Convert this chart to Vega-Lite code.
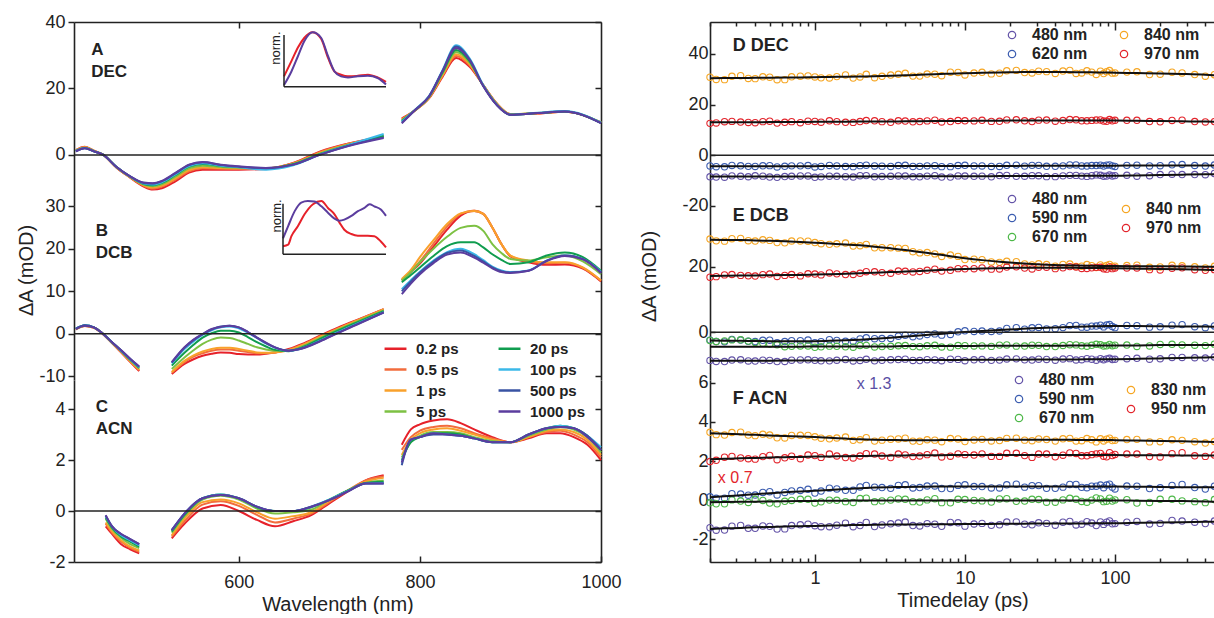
{
"$schema":"https://vega.github.io/schema/vega-lite/v6.json",
"padding":{"left":16,"top":13,"right":0,"bottom":0},
"autosize":{"type":"pad"},
"bounds":"flush",
"align":"each",
"columns":2,
"spacing":{"row":0,"column":109},
"config":{"view":{"stroke":null},"font":"Liberation Sans",
"axis":{"grid":false,"domainColor":"#222","domainWidth":1.6,"tickColor":"#222","tickWidth":1.5,"labelFont":"Liberation Sans","labelFontSize":18,"labelColor":"#222","titleFont":"Liberation Sans","titleFontSize":20,"titleFontWeight":"normal","titleColor":"#222","labelFlush":false,"labelOverlap":false},
"legend":{"labelFont":"Liberation Sans","labelFontWeight":"bold","labelColor":"#222","padding":0}},
"resolve":{"scale":{"x":"independent","y":"independent","color":"independent","stroke":"independent"},"legend":{"color":"independent","stroke":"independent"},"axis":{"x":"independent","y":"independent"}},
"datasets":{
"A":[
{"s":0.2,"w":420,"v":1.5},{"s":0.2,"w":430,"v":2.5},{"s":0.2,"w":440,"v":1.3},{"s":0.2,"w":450,"v":0.1},{"s":0.2,"w":465,"v":-3.8},{"s":0.2,"w":480,"v":-6.8},{"s":0.2,"w":495,"v":-9.5},{"s":0.2,"w":505,"v":-10.4},{"s":0.2,"w":515,"v":-10},{"s":0.2,"w":530,"v":-7.9},{"s":0.2,"w":545,"v":-5.3},{"s":0.2,"w":560,"v":-4.4},{"s":0.2,"w":580,"v":-4.4},{"s":0.2,"w":600,"v":-4.4},{"s":0.2,"w":630,"v":-4.2},{"s":0.2,"w":660,"v":-2.4},{"s":0.2,"w":690,"v":1.1},{"s":0.2,"w":720,"v":3.4},{"s":0.2,"w":760,"v":5.6},{"s":0.2,"w":770,"v":null},{"s":0.2,"w":780,"v":11},{"s":0.2,"w":795,"v":13.5},{"s":0.2,"w":810,"v":17},{"s":0.2,"w":825,"v":23.5},{"s":0.2,"w":840,"v":29.2},{"s":0.2,"w":855,"v":26.5},{"s":0.2,"w":870,"v":21},{"s":0.2,"w":885,"v":15.5},{"s":0.2,"w":900,"v":12.3},{"s":0.2,"w":930,"v":12.5},{"s":0.2,"w":960,"v":13},{"s":0.2,"w":1000,"v":9.8},
{"s":0.5,"w":420,"v":1.4},{"s":0.5,"w":430,"v":2.4},{"s":0.5,"w":440,"v":1.3},{"s":0.5,"w":450,"v":0.1},{"s":0.5,"w":465,"v":-3.8},{"s":0.5,"w":480,"v":-6.7},{"s":0.5,"w":495,"v":-9.3},{"s":0.5,"w":505,"v":-10.1},{"s":0.5,"w":515,"v":-9.5},{"s":0.5,"w":530,"v":-7.4},{"s":0.5,"w":545,"v":-4.9},{"s":0.5,"w":560,"v":-4},{"s":0.5,"w":580,"v":-4.1},{"s":0.5,"w":600,"v":-4.2},{"s":0.5,"w":630,"v":-4.1},{"s":0.5,"w":660,"v":-2.5},{"s":0.5,"w":690,"v":0.9},{"s":0.5,"w":720,"v":3.3},{"s":0.5,"w":760,"v":5.5},{"s":0.5,"w":770,"v":null},{"s":0.5,"w":780,"v":10.8},{"s":0.5,"w":795,"v":13.5},{"s":0.5,"w":810,"v":17.1},{"s":0.5,"w":825,"v":23.8},{"s":0.5,"w":840,"v":29.8},{"s":0.5,"w":855,"v":27},{"s":0.5,"w":870,"v":21},{"s":0.5,"w":885,"v":15.4},{"s":0.5,"w":900,"v":12.3},{"s":0.5,"w":930,"v":12.5},{"s":0.5,"w":960,"v":13},{"s":0.5,"w":1000,"v":9.8},
{"s":1,"w":420,"v":1.4},{"s":1,"w":430,"v":2.3},{"s":1,"w":440,"v":1.2},{"s":1,"w":450,"v":0.1},{"s":1,"w":465,"v":-3.7},{"s":1,"w":480,"v":-6.7},{"s":1,"w":495,"v":-9.1},{"s":1,"w":505,"v":-9.8},{"s":1,"w":515,"v":-9.2},{"s":1,"w":530,"v":-7},{"s":1,"w":545,"v":-4.5},{"s":1,"w":560,"v":-3.7},{"s":1,"w":580,"v":-3.9},{"s":1,"w":600,"v":-4},{"s":1,"w":630,"v":-4},{"s":1,"w":660,"v":-2.6},{"s":1,"w":690,"v":0.7},{"s":1,"w":720,"v":3.2},{"s":1,"w":760,"v":5.5},{"s":1,"w":770,"v":null},{"s":1,"w":780,"v":10.6},{"s":1,"w":795,"v":13.5},{"s":1,"w":810,"v":17.2},{"s":1,"w":825,"v":24},{"s":1,"w":840,"v":30.3},{"s":1,"w":855,"v":27.3},{"s":1,"w":870,"v":21},{"s":1,"w":885,"v":15.4},{"s":1,"w":900,"v":12.3},{"s":1,"w":930,"v":12.6},{"s":1,"w":960,"v":13},{"s":1,"w":1000,"v":9.8},
{"s":5,"w":420,"v":1.3},{"s":5,"w":430,"v":2.2},{"s":5,"w":440,"v":1.2},{"s":5,"w":450,"v":0.1},{"s":5,"w":465,"v":-3.7},{"s":5,"w":480,"v":-6.6},{"s":5,"w":495,"v":-8.9},{"s":5,"w":505,"v":-9.4},{"s":5,"w":515,"v":-8.8},{"s":5,"w":530,"v":-6.5},{"s":5,"w":545,"v":-4},{"s":5,"w":560,"v":-3.2},{"s":5,"w":580,"v":-3.6},{"s":5,"w":600,"v":-3.8},{"s":5,"w":630,"v":-4},{"s":5,"w":660,"v":-2.7},{"s":5,"w":690,"v":0.5},{"s":5,"w":720,"v":3},{"s":5,"w":760,"v":5.6},{"s":5,"w":770,"v":null},{"s":5,"w":780,"v":10.4},{"s":5,"w":795,"v":13.6},{"s":5,"w":810,"v":17.4},{"s":5,"w":825,"v":24.5},{"s":5,"w":840,"v":31},{"s":5,"w":855,"v":27.8},{"s":5,"w":870,"v":20.9},{"s":5,"w":885,"v":15.2},{"s":5,"w":900,"v":12.2},{"s":5,"w":930,"v":12.6},{"s":5,"w":960,"v":13.1},{"s":5,"w":1000,"v":9.7},
{"s":20,"w":420,"v":1.2},{"s":20,"w":430,"v":2.1},{"s":20,"w":440,"v":1.1},{"s":20,"w":450,"v":0.1},{"s":20,"w":465,"v":-3.6},{"s":20,"w":480,"v":-6.5},{"s":20,"w":495,"v":-8.7},{"s":20,"w":505,"v":-9.1},{"s":20,"w":515,"v":-8.4},{"s":20,"w":530,"v":-6},{"s":20,"w":545,"v":-3.5},{"s":20,"w":560,"v":-2.7},{"s":20,"w":580,"v":-3.3},{"s":20,"w":600,"v":-3.6},{"s":20,"w":630,"v":-4.1},{"s":20,"w":660,"v":-2.8},{"s":20,"w":690,"v":0.3},{"s":20,"w":720,"v":2.9},{"s":20,"w":760,"v":5.8},{"s":20,"w":770,"v":null},{"s":20,"w":780,"v":10.2},{"s":20,"w":795,"v":13.6},{"s":20,"w":810,"v":17.5},{"s":20,"w":825,"v":24.9},{"s":20,"w":840,"v":31.6},{"s":20,"w":855,"v":28.2},{"s":20,"w":870,"v":20.8},{"s":20,"w":885,"v":15.1},{"s":20,"w":900,"v":12.1},{"s":20,"w":930,"v":12.6},{"s":20,"w":960,"v":13.1},{"s":20,"w":1000,"v":9.7},
{"s":100,"w":420,"v":1.2},{"s":100,"w":430,"v":2.1},{"s":100,"w":440,"v":1.1},{"s":100,"w":450,"v":0.1},{"s":100,"w":465,"v":-3.6},{"s":100,"w":480,"v":-6.5},{"s":100,"w":495,"v":-8.6},{"s":100,"w":505,"v":-8.9},{"s":100,"w":515,"v":-8.2},{"s":100,"w":530,"v":-5.8},{"s":100,"w":545,"v":-3.3},{"s":100,"w":560,"v":-2.5},{"s":100,"w":580,"v":-3.2},{"s":100,"w":600,"v":-3.7},{"s":100,"w":630,"v":-4.4},{"s":100,"w":660,"v":-3.1},{"s":100,"w":690,"v":0.2},{"s":100,"w":720,"v":2.9},{"s":100,"w":760,"v":6.3},{"s":100,"w":770,"v":null},{"s":100,"w":780,"v":10},{"s":100,"w":795,"v":13.7},{"s":100,"w":810,"v":17.7},{"s":100,"w":825,"v":25.5},{"s":100,"w":840,"v":33},{"s":100,"w":855,"v":29},{"s":100,"w":870,"v":21},{"s":100,"w":885,"v":15.1},{"s":100,"w":900,"v":12.1},{"s":100,"w":930,"v":12.7},{"s":100,"w":960,"v":13.2},{"s":100,"w":1000,"v":9.7},
{"s":500,"w":420,"v":1.1},{"s":500,"w":430,"v":2},{"s":500,"w":440,"v":1.1},{"s":500,"w":450,"v":0.1},{"s":500,"w":465,"v":-3.6},{"s":500,"w":480,"v":-6.4},{"s":500,"w":495,"v":-8.4},{"s":500,"w":505,"v":-8.6},{"s":500,"w":515,"v":-7.9},{"s":500,"w":530,"v":-5.5},{"s":500,"w":545,"v":-3},{"s":500,"w":560,"v":-2.2},{"s":500,"w":580,"v":-3},{"s":500,"w":600,"v":-3.5},{"s":500,"w":630,"v":-4},{"s":500,"w":660,"v":-2.9},{"s":500,"w":690,"v":0.1},{"s":500,"w":720,"v":2.7},{"s":500,"w":760,"v":5.3},{"s":500,"w":770,"v":null},{"s":500,"w":780,"v":9.7},{"s":500,"w":795,"v":13.6},{"s":500,"w":810,"v":17.6},{"s":500,"w":825,"v":25.3},{"s":500,"w":840,"v":32.6},{"s":500,"w":855,"v":28.7},{"s":500,"w":870,"v":20.8},{"s":500,"w":885,"v":15},{"s":500,"w":900,"v":12.1},{"s":500,"w":930,"v":12.6},{"s":500,"w":960,"v":13.1},{"s":500,"w":1000,"v":9.6},
{"s":1000,"w":420,"v":1.1},{"s":1000,"w":430,"v":2},{"s":1000,"w":440,"v":1.1},{"s":1000,"w":450,"v":0.1},{"s":1000,"w":465,"v":-3.6},{"s":1000,"w":480,"v":-6.4},{"s":1000,"w":495,"v":-8.3},{"s":1000,"w":505,"v":-8.5},{"s":1000,"w":515,"v":-7.8},{"s":1000,"w":530,"v":-5.4},{"s":1000,"w":545,"v":-2.9},{"s":1000,"w":560,"v":-2.1},{"s":1000,"w":580,"v":-2.9},{"s":1000,"w":600,"v":-3.4},{"s":1000,"w":630,"v":-3.9},{"s":1000,"w":660,"v":-2.9},{"s":1000,"w":690,"v":0.1},{"s":1000,"w":720,"v":2.6},{"s":1000,"w":760,"v":5.1},{"s":1000,"w":770,"v":null},{"s":1000,"w":780,"v":9.5},{"s":1000,"w":795,"v":13.6},{"s":1000,"w":810,"v":17.6},{"s":1000,"w":825,"v":25.2},{"s":1000,"w":840,"v":32.2},{"s":1000,"w":855,"v":28.5},{"s":1000,"w":870,"v":20.7},{"s":1000,"w":885,"v":15},{"s":1000,"w":900,"v":12.1},{"s":1000,"w":930,"v":12.6},{"s":1000,"w":960,"v":13.1},{"s":1000,"w":1000,"v":9.6}
],
"B":[
{"s":0.2,"w":420,"v":1},{"s":0.2,"w":430,"v":1.8},{"s":0.2,"w":440,"v":1.4},{"s":0.2,"w":450,"v":-0.1},{"s":0.2,"w":460,"v":-2.2},{"s":0.2,"w":470,"v":-4.4},{"s":0.2,"w":480,"v":-6.6},{"s":0.2,"w":490,"v":-8.8},{"s":0.2,"w":505,"v":null},{"s":0.2,"w":526,"v":-9.5},{"s":0.2,"w":540,"v":-7.1},{"s":0.2,"w":550,"v":-6},{"s":0.2,"w":560,"v":-5.2},{"s":0.2,"w":570,"v":-4.7},{"s":0.2,"w":580,"v":-4.4},{"s":0.2,"w":590,"v":-4.5},{"s":0.2,"w":600,"v":-4.8},{"s":0.2,"w":610,"v":-4.9},{"s":0.2,"w":620,"v":-4.9},{"s":0.2,"w":630,"v":-4.7},{"s":0.2,"w":640,"v":-4.4},{"s":0.2,"w":655,"v":-3.6},{"s":0.2,"w":670,"v":-2.4},{"s":0.2,"w":690,"v":-0.4},{"s":0.2,"w":710,"v":1.5},{"s":0.2,"w":730,"v":3.2},{"s":0.2,"w":760,"v":5.8},{"s":0.2,"w":770,"v":null},{"s":0.2,"w":780,"v":12.5},{"s":0.2,"w":790,"v":14.5},{"s":0.2,"w":800,"v":16.5},{"s":0.2,"w":815,"v":20.5},{"s":0.2,"w":830,"v":24.5},{"s":0.2,"w":845,"v":27.8},{"s":0.2,"w":860,"v":28.9},{"s":0.2,"w":870,"v":28.2},{"s":0.2,"w":880,"v":25},{"s":0.2,"w":890,"v":21.1},{"s":0.2,"w":900,"v":18.2},{"s":0.2,"w":920,"v":16.8},{"s":0.2,"w":940,"v":16.2},{"s":0.2,"w":960,"v":16.3},{"s":0.2,"w":980,"v":15.3},{"s":0.2,"w":1000,"v":12.3},
{"s":0.5,"w":420,"v":1},{"s":0.5,"w":430,"v":1.8},{"s":0.5,"w":440,"v":1.4},{"s":0.5,"w":450,"v":-0.1},{"s":0.5,"w":460,"v":-2.2},{"s":0.5,"w":470,"v":-4.3},{"s":0.5,"w":480,"v":-6.5},{"s":0.5,"w":490,"v":-8.6},{"s":0.5,"w":505,"v":null},{"s":0.5,"w":526,"v":-9.2},{"s":0.5,"w":540,"v":-6.7},{"s":0.5,"w":550,"v":-5.4},{"s":0.5,"w":560,"v":-4.6},{"s":0.5,"w":570,"v":-4},{"s":0.5,"w":580,"v":-3.7},{"s":0.5,"w":590,"v":-3.7},{"s":0.5,"w":600,"v":-4},{"s":0.5,"w":610,"v":-4.3},{"s":0.5,"w":620,"v":-4.6},{"s":0.5,"w":630,"v":-4.6},{"s":0.5,"w":640,"v":-4.4},{"s":0.5,"w":655,"v":-3.8},{"s":0.5,"w":670,"v":-2.6},{"s":0.5,"w":690,"v":-0.6},{"s":0.5,"w":710,"v":1.3},{"s":0.5,"w":730,"v":3.1},{"s":0.5,"w":760,"v":5.8},{"s":0.5,"w":770,"v":null},{"s":0.5,"w":780,"v":12.7},{"s":0.5,"w":790,"v":14.7},{"s":0.5,"w":800,"v":17},{"s":0.5,"w":815,"v":21.2},{"s":0.5,"w":830,"v":25.2},{"s":0.5,"w":845,"v":28.2},{"s":0.5,"w":860,"v":29},{"s":0.5,"w":870,"v":28.2},{"s":0.5,"w":880,"v":25},{"s":0.5,"w":890,"v":21.1},{"s":0.5,"w":900,"v":18.3},{"s":0.5,"w":920,"v":17},{"s":0.5,"w":940,"v":16.6},{"s":0.5,"w":960,"v":16.7},{"s":0.5,"w":980,"v":15.5},{"s":0.5,"w":1000,"v":12.5},
{"s":1,"w":420,"v":1.1},{"s":1,"w":430,"v":1.9},{"s":1,"w":440,"v":1.5},{"s":1,"w":450,"v":0},{"s":1,"w":460,"v":-2.1},{"s":1,"w":470,"v":-4.2},{"s":1,"w":480,"v":-6.4},{"s":1,"w":490,"v":-8.4},{"s":1,"w":505,"v":null},{"s":1,"w":526,"v":-9},{"s":1,"w":540,"v":-6.4},{"s":1,"w":550,"v":-5.1},{"s":1,"w":560,"v":-4.2},{"s":1,"w":570,"v":-3.6},{"s":1,"w":580,"v":-3.3},{"s":1,"w":590,"v":-3.3},{"s":1,"w":600,"v":-3.6},{"s":1,"w":610,"v":-4},{"s":1,"w":620,"v":-4.4},{"s":1,"w":630,"v":-4.5},{"s":1,"w":640,"v":-4.4},{"s":1,"w":655,"v":-3.9},{"s":1,"w":670,"v":-2.7},{"s":1,"w":690,"v":-0.7},{"s":1,"w":710,"v":1.2},{"s":1,"w":730,"v":3},{"s":1,"w":760,"v":5.7},{"s":1,"w":770,"v":null},{"s":1,"w":780,"v":12.9},{"s":1,"w":790,"v":15},{"s":1,"w":800,"v":18},{"s":1,"w":815,"v":22},{"s":1,"w":830,"v":25.8},{"s":1,"w":845,"v":28.3},{"s":1,"w":860,"v":28.9},{"s":1,"w":870,"v":28.2},{"s":1,"w":880,"v":25},{"s":1,"w":890,"v":21.1},{"s":1,"w":900,"v":18.4},{"s":1,"w":920,"v":17.2},{"s":1,"w":940,"v":16.8},{"s":1,"w":960,"v":16.8},{"s":1,"w":980,"v":15.6},{"s":1,"w":1000,"v":12.5},
{"s":5,"w":420,"v":1.1},{"s":5,"w":430,"v":1.9},{"s":5,"w":440,"v":1.5},{"s":5,"w":450,"v":0},{"s":5,"w":460,"v":-2.1},{"s":5,"w":470,"v":-4.1},{"s":5,"w":480,"v":-6.2},{"s":5,"w":490,"v":-8.2},{"s":5,"w":505,"v":null},{"s":5,"w":526,"v":-8.3},{"s":5,"w":540,"v":-5.6},{"s":5,"w":550,"v":-3.9},{"s":5,"w":560,"v":-2.4},{"s":5,"w":570,"v":-1.4},{"s":5,"w":580,"v":-0.9},{"s":5,"w":590,"v":-1},{"s":5,"w":600,"v":-1.6},{"s":5,"w":610,"v":-2.4},{"s":5,"w":620,"v":-3.2},{"s":5,"w":630,"v":-3.7},{"s":5,"w":640,"v":-4},{"s":5,"w":655,"v":-4},{"s":5,"w":670,"v":-3},{"s":5,"w":690,"v":-1},{"s":5,"w":710,"v":1},{"s":5,"w":730,"v":2.8},{"s":5,"w":760,"v":5.5},{"s":5,"w":770,"v":null},{"s":5,"w":780,"v":12.5},{"s":5,"w":790,"v":14.5},{"s":5,"w":800,"v":16.8},{"s":5,"w":815,"v":20},{"s":5,"w":830,"v":22.8},{"s":5,"w":845,"v":24.9},{"s":5,"w":860,"v":25.4},{"s":5,"w":870,"v":24.2},{"s":5,"w":880,"v":21.1},{"s":5,"w":890,"v":19},{"s":5,"w":900,"v":17.6},{"s":5,"w":920,"v":17.2},{"s":5,"w":940,"v":18},{"s":5,"w":960,"v":18.4},{"s":5,"w":980,"v":17},{"s":5,"w":1000,"v":14},
{"s":20,"w":420,"v":1.2},{"s":20,"w":430,"v":2},{"s":20,"w":440,"v":1.5},{"s":20,"w":450,"v":0},{"s":20,"w":460,"v":-2},{"s":20,"w":470,"v":-4},{"s":20,"w":480,"v":-6.1},{"s":20,"w":490,"v":-8},{"s":20,"w":505,"v":null},{"s":20,"w":526,"v":-7.5},{"s":20,"w":540,"v":-4.5},{"s":20,"w":550,"v":-2.6},{"s":20,"w":560,"v":-0.9},{"s":20,"w":570,"v":0.1},{"s":20,"w":580,"v":0.7},{"s":20,"w":590,"v":0.7},{"s":20,"w":600,"v":0.3},{"s":20,"w":610,"v":-0.8},{"s":20,"w":620,"v":-2},{"s":20,"w":630,"v":-3},{"s":20,"w":640,"v":-3.8},{"s":20,"w":655,"v":-4.1},{"s":20,"w":670,"v":-3.2},{"s":20,"w":690,"v":-1.2},{"s":20,"w":710,"v":0.8},{"s":20,"w":730,"v":2.6},{"s":20,"w":760,"v":5.3},{"s":20,"w":770,"v":null},{"s":20,"w":780,"v":12.1},{"s":20,"w":790,"v":13.8},{"s":20,"w":800,"v":15.6},{"s":20,"w":815,"v":18.3},{"s":20,"w":830,"v":20.6},{"s":20,"w":845,"v":21.5},{"s":20,"w":860,"v":21.5},{"s":20,"w":870,"v":20.3},{"s":20,"w":880,"v":18.7},{"s":20,"w":890,"v":17.4},{"s":20,"w":900,"v":16.4},{"s":20,"w":920,"v":16.8},{"s":20,"w":940,"v":18.4},{"s":20,"w":960,"v":19.1},{"s":20,"w":980,"v":18},{"s":20,"w":1000,"v":14.8},
{"s":100,"w":420,"v":1.2},{"s":100,"w":430,"v":2},{"s":100,"w":440,"v":1.5},{"s":100,"w":450,"v":0},{"s":100,"w":460,"v":-2},{"s":100,"w":470,"v":-4},{"s":100,"w":480,"v":-6},{"s":100,"w":490,"v":-7.9},{"s":100,"w":505,"v":null},{"s":100,"w":526,"v":-7},{"s":100,"w":540,"v":-3.6},{"s":100,"w":550,"v":-1.8},{"s":100,"w":560,"v":-0.3},{"s":100,"w":570,"v":0.8},{"s":100,"w":580,"v":1.5},{"s":100,"w":590,"v":1.7},{"s":100,"w":600,"v":1.3},{"s":100,"w":610,"v":0.2},{"s":100,"w":620,"v":-1},{"s":100,"w":630,"v":-2.3},{"s":100,"w":640,"v":-3.3},{"s":100,"w":655,"v":-4},{"s":100,"w":670,"v":-3.4},{"s":100,"w":690,"v":-1.6},{"s":100,"w":710,"v":0.4},{"s":100,"w":730,"v":2.3},{"s":100,"w":760,"v":5.1},{"s":100,"w":770,"v":null},{"s":100,"w":780,"v":10.5},{"s":100,"w":790,"v":12.6},{"s":100,"w":800,"v":14.6},{"s":100,"w":815,"v":17.2},{"s":100,"w":830,"v":19.2},{"s":100,"w":845,"v":20},{"s":100,"w":860,"v":18.7},{"s":100,"w":870,"v":17.3},{"s":100,"w":880,"v":15.8},{"s":100,"w":890,"v":14.9},{"s":100,"w":900,"v":14.5},{"s":100,"w":920,"v":14.9},{"s":100,"w":940,"v":17.2},{"s":100,"w":960,"v":18.4},{"s":100,"w":980,"v":17.6},{"s":100,"w":1000,"v":14.6},
{"s":500,"w":420,"v":1.2},{"s":500,"w":430,"v":2},{"s":500,"w":440,"v":1.5},{"s":500,"w":450,"v":0},{"s":500,"w":460,"v":-2},{"s":500,"w":470,"v":-3.9},{"s":500,"w":480,"v":-5.9},{"s":500,"w":490,"v":-7.8},{"s":500,"w":505,"v":null},{"s":500,"w":526,"v":-6.8},{"s":500,"w":540,"v":-3.3},{"s":500,"w":550,"v":-1.5},{"s":500,"w":560,"v":-0.1},{"s":500,"w":570,"v":1},{"s":500,"w":580,"v":1.7},{"s":500,"w":590,"v":1.9},{"s":500,"w":600,"v":1.5},{"s":500,"w":610,"v":0.4},{"s":500,"w":620,"v":-0.9},{"s":500,"w":630,"v":-2.2},{"s":500,"w":640,"v":-3.2},{"s":500,"w":655,"v":-4},{"s":500,"w":670,"v":-3.4},{"s":500,"w":690,"v":-1.7},{"s":500,"w":710,"v":0.3},{"s":500,"w":730,"v":2.2},{"s":500,"w":760,"v":5},{"s":500,"w":770,"v":null},{"s":500,"w":780,"v":10},{"s":500,"w":790,"v":12.3},{"s":500,"w":800,"v":14.4},{"s":500,"w":815,"v":17},{"s":500,"w":830,"v":19},{"s":500,"w":845,"v":19.6},{"s":500,"w":860,"v":18.3},{"s":500,"w":870,"v":17},{"s":500,"w":880,"v":15.6},{"s":500,"w":890,"v":14.7},{"s":500,"w":900,"v":14.4},{"s":500,"w":920,"v":14.8},{"s":500,"w":940,"v":17.2},{"s":500,"w":960,"v":18.4},{"s":500,"w":980,"v":17.6},{"s":500,"w":1000,"v":14.4},
{"s":1000,"w":420,"v":1.1},{"s":1000,"w":430,"v":1.9},{"s":1000,"w":440,"v":1.5},{"s":1000,"w":450,"v":0},{"s":1000,"w":460,"v":-2},{"s":1000,"w":470,"v":-3.9},{"s":1000,"w":480,"v":-5.9},{"s":1000,"w":490,"v":-7.7},{"s":1000,"w":505,"v":null},{"s":1000,"w":526,"v":-6.7},{"s":1000,"w":540,"v":-3.2},{"s":1000,"w":550,"v":-1.4},{"s":1000,"w":560,"v":-0.1},{"s":1000,"w":570,"v":1.1},{"s":1000,"w":580,"v":1.6},{"s":1000,"w":590,"v":1.9},{"s":1000,"w":600,"v":1.5},{"s":1000,"w":610,"v":0.4},{"s":1000,"w":620,"v":-0.9},{"s":1000,"w":630,"v":-2.1},{"s":1000,"w":640,"v":-3.2},{"s":1000,"w":655,"v":-4},{"s":1000,"w":670,"v":-3.5},{"s":1000,"w":690,"v":-1.8},{"s":1000,"w":710,"v":0.2},{"s":1000,"w":730,"v":2.1},{"s":1000,"w":760,"v":5},{"s":1000,"w":770,"v":null},{"s":1000,"w":780,"v":9.3},{"s":1000,"w":790,"v":11.8},{"s":1000,"w":800,"v":14},{"s":1000,"w":815,"v":16.6},{"s":1000,"w":830,"v":18.6},{"s":1000,"w":845,"v":19.1},{"s":1000,"w":860,"v":17.9},{"s":1000,"w":870,"v":16.7},{"s":1000,"w":880,"v":15.4},{"s":1000,"w":890,"v":14.5},{"s":1000,"w":900,"v":14.3},{"s":1000,"w":920,"v":14.8},{"s":1000,"w":940,"v":17.1},{"s":1000,"w":960,"v":18.3},{"s":1000,"w":980,"v":17.5},{"s":1000,"w":1000,"v":14.3}
],
"C":[
{"s":0.2,"w":453,"v":-0.6},{"s":0.2,"w":460,"v":-0.9},{"s":0.2,"w":470,"v":-1.3},{"s":0.2,"w":480,"v":-1.5},{"s":0.2,"w":490,"v":-1.66},{"s":0.2,"w":505,"v":null},{"s":0.2,"w":526,"v":-1.07},{"s":0.2,"w":540,"v":-0.5},{"s":0.2,"w":560,"v":0.1},{"s":0.2,"w":580,"v":0.24},{"s":0.2,"w":600,"v":0},{"s":0.2,"w":620,"v":-0.35},{"s":0.2,"w":640,"v":-0.6},{"s":0.2,"w":660,"v":-0.4},{"s":0.2,"w":680,"v":-0.16},{"s":0.2,"w":700,"v":0.3},{"s":0.2,"w":720,"v":0.76},{"s":0.2,"w":740,"v":1.2},{"s":0.2,"w":760,"v":1.4},{"s":0.2,"w":770,"v":null},{"s":0.2,"w":780,"v":2.6},{"s":0.2,"w":790,"v":3.2},{"s":0.2,"w":800,"v":3.4},{"s":0.2,"w":815,"v":3.55},{"s":0.2,"w":830,"v":3.6},{"s":0.2,"w":845,"v":3.45},{"s":0.2,"w":860,"v":3.2},{"s":0.2,"w":880,"v":2.9},{"s":0.2,"w":900,"v":2.7},{"s":0.2,"w":920,"v":2.85},{"s":0.2,"w":940,"v":3.05},{"s":0.2,"w":955,"v":3.05},{"s":0.2,"w":970,"v":2.9},{"s":0.2,"w":985,"v":2.6},{"s":0.2,"w":1000,"v":2},
{"s":0.5,"w":453,"v":-0.5},{"s":0.5,"w":460,"v":-0.85},{"s":0.5,"w":470,"v":-1.2},{"s":0.5,"w":480,"v":-1.45},{"s":0.5,"w":490,"v":-1.6},{"s":0.5,"w":505,"v":null},{"s":0.5,"w":526,"v":-1},{"s":0.5,"w":540,"v":-0.4},{"s":0.5,"w":560,"v":0.25},{"s":0.5,"w":580,"v":0.38},{"s":0.5,"w":600,"v":0.2},{"s":0.5,"w":620,"v":-0.15},{"s":0.5,"w":640,"v":-0.45},{"s":0.5,"w":660,"v":-0.3},{"s":0.5,"w":680,"v":-0.1},{"s":0.5,"w":700,"v":0.35},{"s":0.5,"w":720,"v":0.8},{"s":0.5,"w":740,"v":1.2},{"s":0.5,"w":760,"v":1.35},{"s":0.5,"w":770,"v":null},{"s":0.5,"w":780,"v":2.4},{"s":0.5,"w":790,"v":2.9},{"s":0.5,"w":800,"v":3.15},{"s":0.5,"w":815,"v":3.3},{"s":0.5,"w":830,"v":3.35},{"s":0.5,"w":845,"v":3.25},{"s":0.5,"w":860,"v":3.05},{"s":0.5,"w":880,"v":2.85},{"s":0.5,"w":900,"v":2.7},{"s":0.5,"w":920,"v":2.9},{"s":0.5,"w":940,"v":3.1},{"s":0.5,"w":955,"v":3.15},{"s":0.5,"w":970,"v":3},{"s":0.5,"w":985,"v":2.7},{"s":0.5,"w":1000,"v":2.1},
{"s":1,"w":453,"v":-0.45},{"s":1,"w":460,"v":-0.8},{"s":1,"w":470,"v":-1.15},{"s":1,"w":480,"v":-1.4},{"s":1,"w":490,"v":-1.55},{"s":1,"w":505,"v":null},{"s":1,"w":526,"v":-0.95},{"s":1,"w":540,"v":-0.3},{"s":1,"w":560,"v":0.35},{"s":1,"w":580,"v":0.45},{"s":1,"w":600,"v":0.3},{"s":1,"w":620,"v":-0.05},{"s":1,"w":640,"v":-0.3},{"s":1,"w":660,"v":-0.2},{"s":1,"w":680,"v":-0.05},{"s":1,"w":700,"v":0.4},{"s":1,"w":720,"v":0.8},{"s":1,"w":740,"v":1.15},{"s":1,"w":760,"v":1.3},{"s":1,"w":770,"v":null},{"s":1,"w":780,"v":2.2},{"s":1,"w":790,"v":2.8},{"s":1,"w":800,"v":3.05},{"s":1,"w":815,"v":3.2},{"s":1,"w":830,"v":3.25},{"s":1,"w":845,"v":3.15},{"s":1,"w":860,"v":3},{"s":1,"w":880,"v":2.8},{"s":1,"w":900,"v":2.7},{"s":1,"w":920,"v":2.9},{"s":1,"w":940,"v":3.15},{"s":1,"w":955,"v":3.2},{"s":1,"w":970,"v":3.1},{"s":1,"w":985,"v":2.8},{"s":1,"w":1000,"v":2.2},
{"s":5,"w":453,"v":-0.3},{"s":5,"w":460,"v":-0.7},{"s":5,"w":470,"v":-1.05},{"s":5,"w":480,"v":-1.3},{"s":5,"w":490,"v":-1.45},{"s":5,"w":505,"v":null},{"s":5,"w":526,"v":-0.85},{"s":5,"w":540,"v":-0.2},{"s":5,"w":560,"v":0.45},{"s":5,"w":580,"v":0.6},{"s":5,"w":600,"v":0.45},{"s":5,"w":620,"v":0.1},{"s":5,"w":640,"v":-0.1},{"s":5,"w":660,"v":-0.05},{"s":5,"w":680,"v":0.05},{"s":5,"w":700,"v":0.45},{"s":5,"w":720,"v":0.8},{"s":5,"w":740,"v":1.1},{"s":5,"w":760,"v":1.2},{"s":5,"w":770,"v":null},{"s":5,"w":780,"v":2.1},{"s":5,"w":790,"v":2.7},{"s":5,"w":800,"v":2.95},{"s":5,"w":815,"v":3.1},{"s":5,"w":830,"v":3.1},{"s":5,"w":845,"v":3.05},{"s":5,"w":860,"v":2.9},{"s":5,"w":880,"v":2.75},{"s":5,"w":900,"v":2.7},{"s":5,"w":920,"v":2.95},{"s":5,"w":940,"v":3.2},{"s":5,"w":955,"v":3.3},{"s":5,"w":970,"v":3.2},{"s":5,"w":985,"v":2.9},{"s":5,"w":1000,"v":2.3},
{"s":20,"w":453,"v":-0.25},{"s":20,"w":460,"v":-0.65},{"s":20,"w":470,"v":-1},{"s":20,"w":480,"v":-1.2},{"s":20,"w":490,"v":-1.4},{"s":20,"w":505,"v":null},{"s":20,"w":526,"v":-0.8},{"s":20,"w":540,"v":-0.15},{"s":20,"w":560,"v":0.5},{"s":20,"w":580,"v":0.65},{"s":20,"w":600,"v":0.5},{"s":20,"w":620,"v":0.15},{"s":20,"w":640,"v":0},{"s":20,"w":660,"v":0},{"s":20,"w":680,"v":0.15},{"s":20,"w":700,"v":0.45},{"s":20,"w":720,"v":0.8},{"s":20,"w":740,"v":1.1},{"s":20,"w":760,"v":1.15},{"s":20,"w":770,"v":null},{"s":20,"w":780,"v":2},{"s":20,"w":790,"v":2.7},{"s":20,"w":800,"v":2.9},{"s":20,"w":815,"v":3.05},{"s":20,"w":830,"v":3.05},{"s":20,"w":845,"v":3},{"s":20,"w":860,"v":2.85},{"s":20,"w":880,"v":2.7},{"s":20,"w":900,"v":2.7},{"s":20,"w":920,"v":3},{"s":20,"w":940,"v":3.25},{"s":20,"w":955,"v":3.35},{"s":20,"w":970,"v":3.25},{"s":20,"w":985,"v":2.95},{"s":20,"w":1000,"v":2.4},
{"s":100,"w":453,"v":-0.2},{"s":100,"w":460,"v":-0.6},{"s":100,"w":470,"v":-0.95},{"s":100,"w":480,"v":-1.15},{"s":100,"w":490,"v":-1.35},{"s":100,"w":505,"v":null},{"s":100,"w":526,"v":-0.75},{"s":100,"w":540,"v":-0.1},{"s":100,"w":560,"v":0.5},{"s":100,"w":580,"v":0.65},{"s":100,"w":600,"v":0.5},{"s":100,"w":620,"v":0.17},{"s":100,"w":640,"v":0},{"s":100,"w":660,"v":0},{"s":100,"w":680,"v":0.17},{"s":100,"w":700,"v":0.45},{"s":100,"w":720,"v":0.78},{"s":100,"w":740,"v":1.08},{"s":100,"w":760,"v":1.1},{"s":100,"w":770,"v":null},{"s":100,"w":780,"v":1.9},{"s":100,"w":790,"v":2.8},{"s":100,"w":800,"v":2.9},{"s":100,"w":815,"v":3.05},{"s":100,"w":830,"v":3},{"s":100,"w":845,"v":2.95},{"s":100,"w":860,"v":2.85},{"s":100,"w":880,"v":2.7},{"s":100,"w":900,"v":2.7},{"s":100,"w":920,"v":3},{"s":100,"w":940,"v":3.25},{"s":100,"w":955,"v":3.35},{"s":100,"w":970,"v":3.25},{"s":100,"w":985,"v":2.95},{"s":100,"w":1000,"v":2.5},
{"s":500,"w":453,"v":-0.18},{"s":500,"w":460,"v":-0.6},{"s":500,"w":470,"v":-0.9},{"s":500,"w":480,"v":-1.1},{"s":500,"w":490,"v":-1.3},{"s":500,"w":505,"v":null},{"s":500,"w":526,"v":-0.75},{"s":500,"w":540,"v":-0.1},{"s":500,"w":560,"v":0.5},{"s":500,"w":580,"v":0.63},{"s":500,"w":600,"v":0.5},{"s":500,"w":620,"v":0.17},{"s":500,"w":640,"v":0},{"s":500,"w":660,"v":0},{"s":500,"w":680,"v":0.17},{"s":500,"w":700,"v":0.43},{"s":500,"w":720,"v":0.76},{"s":500,"w":740,"v":1.08},{"s":500,"w":760,"v":1.08},{"s":500,"w":770,"v":null},{"s":500,"w":780,"v":1.8},{"s":500,"w":790,"v":2.8},{"s":500,"w":800,"v":2.9},{"s":500,"w":815,"v":3},{"s":500,"w":830,"v":3},{"s":500,"w":845,"v":2.95},{"s":500,"w":860,"v":2.85},{"s":500,"w":880,"v":2.7},{"s":500,"w":900,"v":2.7},{"s":500,"w":920,"v":3},{"s":500,"w":940,"v":3.25},{"s":500,"w":955,"v":3.3},{"s":500,"w":970,"v":3.25},{"s":500,"w":985,"v":2.95},{"s":500,"w":1000,"v":2.4},
{"s":1000,"w":453,"v":-0.16},{"s":1000,"w":460,"v":-0.6},{"s":1000,"w":470,"v":-0.9},{"s":1000,"w":480,"v":-1.1},{"s":1000,"w":490,"v":-1.3},{"s":1000,"w":505,"v":null},{"s":1000,"w":526,"v":-0.75},{"s":1000,"w":540,"v":-0.1},{"s":1000,"w":560,"v":0.5},{"s":1000,"w":580,"v":0.63},{"s":1000,"w":600,"v":0.5},{"s":1000,"w":620,"v":0.17},{"s":1000,"w":640,"v":0},{"s":1000,"w":660,"v":0},{"s":1000,"w":680,"v":0.17},{"s":1000,"w":700,"v":0.43},{"s":1000,"w":720,"v":0.76},{"s":1000,"w":740,"v":1.08},{"s":1000,"w":760,"v":1.08},{"s":1000,"w":770,"v":null},{"s":1000,"w":780,"v":1.9},{"s":1000,"w":790,"v":2.8},{"s":1000,"w":800,"v":2.9},{"s":1000,"w":815,"v":3.05},{"s":1000,"w":830,"v":3},{"s":1000,"w":845,"v":2.95},{"s":1000,"w":860,"v":2.85},{"s":1000,"w":880,"v":2.7},{"s":1000,"w":900,"v":2.7},{"s":1000,"w":920,"v":3},{"s":1000,"w":940,"v":3.25},{"s":1000,"w":955,"v":3.3},{"s":1000,"w":970,"v":3.25},{"s":1000,"w":985,"v":2.9},{"s":1000,"w":1000,"v":2.4}
],
"Ai":[
{"s":0.2,"w":780,"n":0.19},{"s":0.2,"w":796,"n":0.47},{"s":0.2,"w":810,"n":0.72},{"s":0.2,"w":824,"n":0.9},{"s":0.2,"w":842,"n":1},{"s":0.2,"w":860,"n":0.88},{"s":0.2,"w":875,"n":0.53},{"s":0.2,"w":889,"n":0.28},{"s":0.2,"w":903,"n":0.22},{"s":0.2,"w":918,"n":0.19},{"s":0.2,"w":939,"n":0.2},{"s":0.2,"w":961,"n":0.22},{"s":0.2,"w":982,"n":0.17},{"s":0.2,"w":1000,"n":0.09},
{"s":1000,"w":780,"n":0.03},{"s":1000,"w":796,"n":0.28},{"s":1000,"w":810,"n":0.56},{"s":1000,"w":824,"n":0.84},{"s":1000,"w":842,"n":1},{"s":1000,"w":860,"n":0.9},{"s":1000,"w":875,"n":0.56},{"s":1000,"w":889,"n":0.28},{"s":1000,"w":903,"n":0.19},{"s":1000,"w":918,"n":0.17},{"s":1000,"w":939,"n":0.19},{"s":1000,"w":961,"n":0.2},{"s":1000,"w":982,"n":0.16},{"s":1000,"w":1000,"n":0.04}
],
"Bi":[
{"s":0.2,"w":780,"n":0.15},{"s":0.2,"w":791,"n":0.18},{"s":0.2,"w":798,"n":0.34},{"s":0.2,"w":812,"n":0.53},{"s":0.2,"w":826,"n":0.75},{"s":0.2,"w":844,"n":0.94},{"s":0.2,"w":862,"n":1},{"s":0.2,"w":876,"n":0.87},{"s":0.2,"w":890,"n":0.75},{"s":0.2,"w":901,"n":0.59},{"s":0.2,"w":911,"n":0.46},{"s":0.2,"w":926,"n":0.38},{"s":0.2,"w":940,"n":0.35},{"s":0.2,"w":961,"n":0.35},{"s":0.2,"w":975,"n":0.34},{"s":0.2,"w":989,"n":0.24},{"s":0.2,"w":1000,"n":0.13},
{"s":1000,"w":780,"n":0.3},{"s":1000,"w":791,"n":0.53},{"s":1000,"w":805,"n":0.81},{"s":1000,"w":819,"n":0.97},{"s":1000,"w":833,"n":1},{"s":1000,"w":847,"n":0.99},{"s":1000,"w":862,"n":0.9},{"s":1000,"w":876,"n":0.78},{"s":1000,"w":890,"n":0.67},{"s":1000,"w":901,"n":0.63},{"s":1000,"w":911,"n":0.65},{"s":1000,"w":926,"n":0.72},{"s":1000,"w":940,"n":0.81},{"s":1000,"w":954,"n":0.87},{"s":1000,"w":965,"n":0.94},{"s":1000,"w":975,"n":0.9},{"s":1000,"w":989,"n":0.84},{"s":1000,"w":1000,"n":0.72}
],
"D":[
{"s":840,"t":0.2,"v":30.8,"f":30.4},{"s":840,"t":0.25,"v":29.85,"f":30.45},{"s":840,"t":0.32,"v":31.4,"f":30.5},{"s":840,"t":0.4,"v":30.25,"f":30.55},{"s":840,"t":0.5,"v":30.8,"f":30.6},{"s":840,"t":0.63,"v":29.85,"f":30.65},{"s":840,"t":0.8,"v":31.2,"f":30.7},{"s":840,"t":1,"v":30.9,"f":30.8},{"s":840,"t":1.25,"v":30.5,"f":30.9},{"s":840,"t":1.6,"v":31.7,"f":31},{"s":840,"t":2,"v":30.9,"f":31.1},{"s":840,"t":2.5,"v":30.6,"f":31.2},{"s":840,"t":3.2,"v":31.65,"f":31.35},{"s":840,"t":4,"v":32.35,"f":31.55},{"s":840,"t":5,"v":31.25,"f":31.75},{"s":840,"t":6.3,"v":32,"f":32},{"s":840,"t":8,"v":32.8,"f":32.2},{"s":840,"t":10,"v":31.7,"f":32.4},{"s":840,"t":13,"v":32.75,"f":32.55},{"s":840,"t":17,"v":32.4,"f":32.7},{"s":840,"t":22,"v":33.5,"f":32.8},{"s":840,"t":28,"v":32.5,"f":32.9},{"s":840,"t":35,"v":33,"f":32.9},{"s":840,"t":45,"v":33.25,"f":32.85},{"s":840,"t":55,"v":32.3,"f":32.8},{"s":840,"t":65,"v":33.35,"f":32.75},{"s":840,"t":75,"v":31.9,"f":32.7},{"s":840,"t":88,"v":32.95,"f":32.65},{"s":840,"t":100,"v":32.5,"f":32.6},{"s":840,"t":140,"v":32.95,"f":32.45},{"s":840,"t":200,"v":32,"f":32.3},{"s":840,"t":280,"v":32.5,"f":32.1},{"s":840,"t":400,"v":31.2,"f":31.8},{"s":840,"t":460,"v":31.8,"f":31.6},
{"s":840,"t":0.22,"v":29.92},{"s":840,"t":0.28,"v":31.17},{"s":840,"t":0.36,"v":30.32},{"s":840,"t":0.45,"v":30.97},{"s":840,"t":0.56,"v":29.82},{"s":840,"t":0.7,"v":30.97},{"s":840,"t":0.9,"v":31.35},{"s":840,"t":1.1,"v":30.55},{"s":840,"t":1.4,"v":31.05},{"s":840,"t":1.8,"v":30.45},{"s":840,"t":2.2,"v":31.95},{"s":840,"t":2.8,"v":31.17},{"s":840,"t":3.6,"v":31.95},{"s":840,"t":4.5,"v":31.25},{"s":840,"t":5.6,"v":32.07},{"s":840,"t":7,"v":31.4},{"s":840,"t":9,"v":32.7},{"s":840,"t":11.5,"v":32.47},{"s":840,"t":15,"v":32.12},{"s":840,"t":19,"v":33.35},{"s":840,"t":25,"v":32.65},{"s":840,"t":31,"v":33.2},{"s":840,"t":40,"v":32.28},{"s":840,"t":50,"v":33.52},{"s":840,"t":60,"v":32.48},{"s":840,"t":70,"v":32.82},{"s":840,"t":80,"v":33.18},{"s":840,"t":84,"v":32.26},{"s":840,"t":92,"v":33.43},{"s":840,"t":96,"v":32.41},{"s":840,"t":120,"v":32.82},{"s":840,"t":170,"v":31.87},{"s":840,"t":240,"v":32.8},{"s":840,"t":340,"v":31.85},
{"s":970,"t":0.2,"v":12.6,"f":13},{"s":970,"t":0.25,"v":13.25,"f":13},{"s":970,"t":0.32,"v":13.1,"f":13.05},{"s":970,"t":0.4,"v":12.85,"f":13.05},{"s":970,"t":0.5,"v":13.45,"f":13.1},{"s":970,"t":0.63,"v":13,"f":13.1},{"s":970,"t":0.8,"v":12.85,"f":13.15},{"s":970,"t":1,"v":13.35,"f":13.2},{"s":970,"t":1.25,"v":13.6,"f":13.2},{"s":970,"t":1.6,"v":13,"f":13.25},{"s":970,"t":2,"v":13.3,"f":13.3},{"s":970,"t":2.5,"v":13.6,"f":13.3},{"s":970,"t":3.2,"v":13,"f":13.35},{"s":970,"t":4,"v":13.5,"f":13.4},{"s":970,"t":5,"v":13.3,"f":13.45},{"s":970,"t":6.3,"v":13.85,"f":13.5},{"s":970,"t":8,"v":13.3,"f":13.5},{"s":970,"t":10,"v":13.6,"f":13.55},{"s":970,"t":13,"v":13.8,"f":13.6},{"s":970,"t":17,"v":13.4,"f":13.65},{"s":970,"t":22,"v":14,"f":13.7},{"s":970,"t":28,"v":13.3,"f":13.7},{"s":970,"t":35,"v":13.9,"f":13.75},{"s":970,"t":45,"v":13.7,"f":13.75},{"s":970,"t":55,"v":14,"f":13.75},{"s":970,"t":65,"v":13.6,"f":13.75},{"s":970,"t":75,"v":13.9,"f":13.7},{"s":970,"t":88,"v":13.4,"f":13.7},{"s":970,"t":100,"v":13.8,"f":13.7},{"s":970,"t":140,"v":13.8,"f":13.6},{"s":970,"t":200,"v":13.2,"f":13.5},{"s":970,"t":280,"v":13.85,"f":13.4},{"s":970,"t":400,"v":13.15,"f":13.3},{"s":970,"t":460,"v":13.3,"f":13.2},
{"s":970,"t":0.22,"v":12.75},{"s":970,"t":0.28,"v":13.37},{"s":970,"t":0.36,"v":12.95},{"s":970,"t":0.45,"v":13.27},{"s":970,"t":0.56,"v":12.7},{"s":970,"t":0.7,"v":13.27},{"s":970,"t":0.9,"v":13.47},{"s":970,"t":1.1,"v":13.05},{"s":970,"t":1.4,"v":13.27},{"s":970,"t":1.8,"v":12.97},{"s":970,"t":2.2,"v":13.7},{"s":970,"t":2.8,"v":13.27},{"s":970,"t":3.6,"v":13.62},{"s":970,"t":4.5,"v":13.22},{"s":970,"t":5.6,"v":13.57},{"s":970,"t":7,"v":13.15},{"s":970,"t":9,"v":13.72},{"s":970,"t":11.5,"v":13.57},{"s":970,"t":15,"v":13.37},{"s":970,"t":19,"v":13.97},{"s":970,"t":25,"v":13.6},{"s":970,"t":31,"v":13.87},{"s":970,"t":40,"v":13.45},{"s":970,"t":50,"v":14.1},{"s":970,"t":60,"v":13.6},{"s":970,"t":70,"v":13.77},{"s":970,"t":80,"v":13.95},{"s":970,"t":84,"v":13.5},{"s":970,"t":92,"v":14.1},{"s":970,"t":96,"v":13.6},{"s":970,"t":120,"v":13.8},{"s":970,"t":170,"v":13.3},{"s":970,"t":240,"v":13.75},{"s":970,"t":340,"v":13.3},
{"s":620,"t":0.2,"v":-4.22,"f":-4.3},{"s":620,"t":0.25,"v":-4.54,"f":-4.3},{"s":620,"t":0.32,"v":-4.14,"f":-4.3},{"s":620,"t":0.4,"v":-4.42,"f":-4.3},{"s":620,"t":0.5,"v":-4.1,"f":-4.3},{"s":620,"t":0.63,"v":-4.34,"f":-4.3},{"s":620,"t":0.8,"v":-4.18,"f":-4.3},{"s":620,"t":1,"v":-4.62,"f":-4.3},{"s":620,"t":1.25,"v":-4.01,"f":-4.25},{"s":620,"t":1.6,"v":-4.45,"f":-4.25},{"s":620,"t":2,"v":-4.09,"f":-4.25},{"s":620,"t":2.5,"v":-4.21,"f":-4.25},{"s":620,"t":3.2,"v":-4.41,"f":-4.25},{"s":620,"t":4,"v":-3.97,"f":-4.25},{"s":620,"t":5,"v":-4.37,"f":-4.25},{"s":620,"t":6.3,"v":-4.12,"f":-4.2},{"s":620,"t":8,"v":-4.48,"f":-4.2},{"s":620,"t":10,"v":-3.96,"f":-4.2},{"s":620,"t":13,"v":-4.2,"f":-4.2},{"s":620,"t":17,"v":-4.4,"f":-4.2},{"s":620,"t":22,"v":-3.88,"f":-4.2},{"s":620,"t":28,"v":-3.98,"f":-4.1},{"s":620,"t":35,"v":-4.34,"f":-4.1},{"s":620,"t":45,"v":-4.18,"f":-4.1},{"s":620,"t":55,"v":-3.82,"f":-4.1},{"s":620,"t":65,"v":-4.26,"f":-4.1},{"s":620,"t":75,"v":-4.06,"f":-4.1},{"s":620,"t":88,"v":-3.9,"f":-4.1},{"s":620,"t":100,"v":-4.42,"f":-4.1},{"s":620,"t":140,"v":-3.92,"f":-4},{"s":620,"t":200,"v":-4.12,"f":-4},{"s":620,"t":280,"v":-3.64,"f":-4},{"s":620,"t":400,"v":-4.24,"f":-4},{"s":620,"t":460,"v":-3.84,"f":-4},
{"s":620,"t":0.22,"v":-4.5},{"s":620,"t":0.28,"v":-4.02},{"s":620,"t":0.36,"v":-4.38},{"s":620,"t":0.45,"v":-4.14},{"s":620,"t":0.56,"v":-4.62},{"s":620,"t":0.7,"v":-4.18},{"s":620,"t":0.9,"v":-4.06},{"s":620,"t":1.1,"v":-4.42},{"s":620,"t":1.4,"v":-4.21},{"s":620,"t":1.8,"v":-4.49},{"s":620,"t":2.2,"v":-3.93},{"s":620,"t":2.8,"v":-4.29},{"s":620,"t":3.6,"v":-4.05},{"s":620,"t":4.5,"v":-4.41},{"s":620,"t":5.6,"v":-4.17},{"s":620,"t":7,"v":-4.48},{"s":620,"t":9,"v":-4.04},{"s":620,"t":11.5,"v":-4.2},{"s":620,"t":15,"v":-4.4},{"s":620,"t":19,"v":-3.96},{"s":620,"t":25,"v":-4.28},{"s":620,"t":31,"v":-3.98},{"s":620,"t":40,"v":-4.34},{"s":620,"t":50,"v":-3.82},{"s":620,"t":60,"v":-4.22},{"s":620,"t":70,"v":-4.06},{"s":620,"t":80,"v":-3.9},{"s":620,"t":84,"v":-4.26},{"s":620,"t":92,"v":-3.78},{"s":620,"t":96,"v":-4.18},{"s":620,"t":120,"v":-3.98},{"s":620,"t":170,"v":-4.2},{"s":620,"t":240,"v":-3.76},{"s":620,"t":340,"v":-4.04},
{"s":480,"t":0.2,"v":-8.48,"f":-8.4},{"s":480,"t":0.25,"v":-8.64,"f":-8.4},{"s":480,"t":0.32,"v":-8.28,"f":-8.4},{"s":480,"t":0.4,"v":-8.08,"f":-8.4},{"s":480,"t":0.5,"v":-8.6,"f":-8.4},{"s":480,"t":0.63,"v":-8.4,"f":-8.4},{"s":480,"t":0.8,"v":-8.16,"f":-8.4},{"s":480,"t":1,"v":-8.68,"f":-8.4},{"s":480,"t":1.25,"v":-8.27,"f":-8.35},{"s":480,"t":1.6,"v":-8.47,"f":-8.35},{"s":480,"t":2,"v":-8.07,"f":-8.35},{"s":480,"t":2.5,"v":-8.51,"f":-8.35},{"s":480,"t":3.2,"v":-8.31,"f":-8.35},{"s":480,"t":4,"v":-8.19,"f":-8.35},{"s":480,"t":5,"v":-8.5,"f":-8.3},{"s":480,"t":6.3,"v":-8.06,"f":-8.3},{"s":480,"t":8,"v":-8.62,"f":-8.3},{"s":480,"t":10,"v":-8.18,"f":-8.3},{"s":480,"t":13,"v":-8.24,"f":-8.3},{"s":480,"t":17,"v":-8,"f":-8.2},{"s":480,"t":22,"v":-8.32,"f":-8.2},{"s":480,"t":28,"v":-8.04,"f":-8.2},{"s":480,"t":35,"v":-8.44,"f":-8.2},{"s":480,"t":45,"v":-8.12,"f":-8.2},{"s":480,"t":55,"v":-7.94,"f":-8.1},{"s":480,"t":65,"v":-8.34,"f":-8.1},{"s":480,"t":75,"v":-7.74,"f":-8.1},{"s":480,"t":88,"v":-8.22,"f":-8.1},{"s":480,"t":100,"v":-8.02,"f":-8.1},{"s":480,"t":140,"v":-8.27,"f":-7.95},{"s":480,"t":200,"v":-7.6,"f":-7.8},{"s":480,"t":280,"v":-7.61,"f":-7.65},{"s":480,"t":400,"v":-7.66,"f":-7.5},{"s":480,"t":460,"v":-7.17,"f":-7.45},
{"s":480,"t":0.22,"v":-8.6},{"s":480,"t":0.28,"v":-8.12},{"s":480,"t":0.36,"v":-8.48},{"s":480,"t":0.45,"v":-8.24},{"s":480,"t":0.56,"v":-8.72},{"s":480,"t":0.7,"v":-8.28},{"s":480,"t":0.9,"v":-8.16},{"s":480,"t":1.1,"v":-8.52},{"s":480,"t":1.4,"v":-8.31},{"s":480,"t":1.8,"v":-8.59},{"s":480,"t":2.2,"v":-8.03},{"s":480,"t":2.8,"v":-8.39},{"s":480,"t":3.6,"v":-8.15},{"s":480,"t":4.5,"v":-8.51},{"s":480,"t":5.6,"v":-8.22},{"s":480,"t":7,"v":-8.58},{"s":480,"t":9,"v":-8.14},{"s":480,"t":11.5,"v":-8.3},{"s":480,"t":15,"v":-8.5},{"s":480,"t":19,"v":-7.96},{"s":480,"t":25,"v":-8.28},{"s":480,"t":31,"v":-8.08},{"s":480,"t":40,"v":-8.44},{"s":480,"t":50,"v":-7.92},{"s":480,"t":60,"v":-8.22},{"s":480,"t":70,"v":-8.06},{"s":480,"t":80,"v":-7.9},{"s":480,"t":84,"v":-8.26},{"s":480,"t":92,"v":-7.78},{"s":480,"t":96,"v":-8.18},{"s":480,"t":120,"v":-7.88},{"s":480,"t":170,"v":-8.07},{"s":480,"t":240,"v":-7.48},{"s":480,"t":340,"v":-7.61}
],
"E":[
{"s":840,"t":0.2,"v":28.44,"f":28.2},{"s":840,"t":0.25,"v":27.79,"f":28.15},{"s":840,"t":0.32,"v":28.64,"f":28.1},{"s":840,"t":0.4,"v":27.82,"f":28},{"s":840,"t":0.5,"v":28.02,"f":27.9},{"s":840,"t":0.63,"v":27.27,"f":27.75},{"s":840,"t":0.8,"v":27.85,"f":27.55},{"s":840,"t":1,"v":27.36,"f":27.3},{"s":840,"t":1.25,"v":26.81,"f":27.05},{"s":840,"t":1.6,"v":27.22,"f":26.8},{"s":840,"t":2,"v":26.38,"f":26.5},{"s":840,"t":2.5,"v":25.74,"f":26.1},{"s":840,"t":3.2,"v":25.78,"f":25.6},{"s":840,"t":4,"v":25.58,"f":25.1},{"s":840,"t":5,"v":24.2,"f":24.5},{"s":840,"t":6.3,"v":23.9,"f":23.9},{"s":840,"t":8,"v":23.56,"f":23.2},{"s":840,"t":10,"v":22.18,"f":22.6},{"s":840,"t":13,"v":22.12,"f":22},{"s":840,"t":17,"v":21.32,"f":21.5},{"s":840,"t":22,"v":21.52,"f":21.1},{"s":840,"t":28,"v":20.56,"f":20.8},{"s":840,"t":35,"v":20.66,"f":20.6},{"s":840,"t":45,"v":20.69,"f":20.45},{"s":840,"t":55,"v":20.05,"f":20.35},{"s":840,"t":65,"v":20.66,"f":20.3},{"s":840,"t":75,"v":19.77,"f":20.25},{"s":840,"t":88,"v":20.38,"f":20.2},{"s":840,"t":100,"v":20.14,"f":20.2},{"s":840,"t":140,"v":20.45,"f":20.15},{"s":840,"t":200,"v":19.92,"f":20.1},{"s":840,"t":280,"v":20.29,"f":20.05},{"s":840,"t":400,"v":19.64,"f":20},{"s":840,"t":460,"v":20.12,"f":20},
{"s":840,"t":0.22,"v":27.88},{"s":840,"t":0.28,"v":28.54},{"s":840,"t":0.36,"v":27.93},{"s":840,"t":0.45,"v":28.19},{"s":840,"t":0.56,"v":27.34},{"s":840,"t":0.7,"v":27.83},{"s":840,"t":0.9,"v":27.78},{"s":840,"t":1.1,"v":27},{"s":840,"t":1.4,"v":26.98},{"s":840,"t":1.8,"v":26.29},{"s":840,"t":2.2,"v":26.78},{"s":840,"t":2.8,"v":25.79},{"s":840,"t":3.6,"v":25.65},{"s":840,"t":4.5,"v":24.56},{"s":840,"t":5.6,"v":24.32},{"s":840,"t":7,"v":23.13},{"s":840,"t":9,"v":23.14},{"s":840,"t":11.5,"v":22.3},{"s":840,"t":15,"v":21.45},{"s":840,"t":19,"v":21.66},{"s":840,"t":25,"v":20.83},{"s":840,"t":31,"v":20.88},{"s":840,"t":40,"v":20.16},{"s":840,"t":50,"v":20.82},{"s":840,"t":60,"v":20.14},{"s":840,"t":70,"v":20.33},{"s":840,"t":80,"v":20.52},{"s":840,"t":84,"v":19.97},{"s":840,"t":92,"v":20.68},{"s":840,"t":96,"v":20.08},{"s":840,"t":120,"v":20.35},{"s":840,"t":170,"v":19.82},{"s":840,"t":240,"v":20.43},{"s":840,"t":340,"v":19.96},
{"s":970,"t":0.2,"v":16.8,"f":17.2},{"s":970,"t":0.25,"v":17.5,"f":17.25},{"s":970,"t":0.32,"v":17.35,"f":17.3},{"s":970,"t":0.4,"v":17.15,"f":17.35},{"s":970,"t":0.5,"v":17.75,"f":17.4},{"s":970,"t":0.63,"v":17.35,"f":17.45},{"s":970,"t":0.8,"v":17.2,"f":17.5},{"s":970,"t":1,"v":17.75,"f":17.6},{"s":970,"t":1.25,"v":18.1,"f":17.7},{"s":970,"t":1.6,"v":17.6,"f":17.85},{"s":970,"t":2,"v":18,"f":18},{"s":970,"t":2.5,"v":18.45,"f":18.15},{"s":970,"t":3.2,"v":18,"f":18.35},{"s":970,"t":4,"v":18.6,"f":18.5},{"s":970,"t":5,"v":18.55,"f":18.7},{"s":970,"t":6.3,"v":19.25,"f":18.9},{"s":970,"t":8,"v":18.9,"f":19.1},{"s":970,"t":10,"v":19.35,"f":19.3},{"s":970,"t":13,"v":19.65,"f":19.45},{"s":970,"t":17,"v":19.3,"f":19.55},{"s":970,"t":22,"v":19.95,"f":19.65},{"s":970,"t":28,"v":19.3,"f":19.7},{"s":970,"t":35,"v":19.85,"f":19.7},{"s":970,"t":45,"v":19.65,"f":19.7},{"s":970,"t":55,"v":19.9,"f":19.65},{"s":970,"t":65,"v":19.45,"f":19.6},{"s":970,"t":75,"v":19.8,"f":19.6},{"s":970,"t":88,"v":19.25,"f":19.55},{"s":970,"t":100,"v":19.6,"f":19.5},{"s":970,"t":140,"v":19.6,"f":19.4},{"s":970,"t":200,"v":19,"f":19.3},{"s":970,"t":280,"v":19.65,"f":19.2},{"s":970,"t":400,"v":18.9,"f":19.05},{"s":970,"t":460,"v":19.1,"f":19},
{"s":970,"t":0.22,"v":16.97},{"s":970,"t":0.28,"v":17.62},{"s":970,"t":0.36,"v":17.22},{"s":970,"t":0.45,"v":17.57},{"s":970,"t":0.56,"v":17.02},{"s":970,"t":0.7,"v":17.62},{"s":970,"t":0.9,"v":17.85},{"s":970,"t":1.1,"v":17.5},{"s":970,"t":1.4,"v":17.82},{"s":970,"t":1.8,"v":17.62},{"s":970,"t":2.2,"v":18.47},{"s":970,"t":2.8,"v":18.2},{"s":970,"t":3.6,"v":18.67},{"s":970,"t":4.5,"v":18.4},{"s":970,"t":5.6,"v":18.9},{"s":970,"t":7,"v":18.65},{"s":970,"t":9,"v":19.4},{"s":970,"t":11.5,"v":19.38},{"s":970,"t":15,"v":19.25},{"s":970,"t":19,"v":19.9},{"s":970,"t":25,"v":19.58},{"s":970,"t":31,"v":19.85},{"s":970,"t":40,"v":19.4},{"s":970,"t":50,"v":20.03},{"s":970,"t":60,"v":19.47},{"s":970,"t":70,"v":19.65},{"s":970,"t":80,"v":19.83},{"s":970,"t":84,"v":19.36},{"s":970,"t":92,"v":19.93},{"s":970,"t":96,"v":19.41},{"s":970,"t":120,"v":19.6},{"s":970,"t":170,"v":19.1},{"s":970,"t":240,"v":19.55},{"s":970,"t":340,"v":19.07},
{"s":590,"t":0.2,"v":-2.38,"f":-2.5},{"s":590,"t":0.25,"v":-2.91,"f":-2.55},{"s":590,"t":0.32,"v":-2.36,"f":-2.6},{"s":590,"t":0.4,"v":-2.83,"f":-2.65},{"s":590,"t":0.5,"v":-2.4,"f":-2.7},{"s":590,"t":0.63,"v":-2.81,"f":-2.75},{"s":590,"t":0.8,"v":-2.57,"f":-2.75},{"s":590,"t":1,"v":-3.18,"f":-2.7},{"s":590,"t":1.25,"v":-2.24,"f":-2.6},{"s":590,"t":1.6,"v":-2.75,"f":-2.45},{"s":590,"t":2,"v":-2.01,"f":-2.25},{"s":590,"t":2.5,"v":-1.94,"f":-2},{"s":590,"t":3.2,"v":-1.89,"f":-1.65},{"s":590,"t":4,"v":-0.88,"f":-1.3},{"s":590,"t":5,"v":-1.13,"f":-0.95},{"s":590,"t":6.3,"v":-0.48,"f":-0.6},{"s":590,"t":8,"v":-0.67,"f":-0.25},{"s":590,"t":10,"v":0.46,"f":0.1},{"s":590,"t":13,"v":0.4,"f":0.4},{"s":590,"t":17,"v":0.4,"f":0.7},{"s":590,"t":22,"v":1.43,"f":0.95},{"s":590,"t":28,"v":1.38,"f":1.2},{"s":590,"t":35,"v":1.04,"f":1.4},{"s":590,"t":45,"v":1.43,"f":1.55},{"s":590,"t":55,"v":2.12,"f":1.7},{"s":590,"t":65,"v":1.56,"f":1.8},{"s":590,"t":75,"v":1.91,"f":1.85},{"s":590,"t":88,"v":2.2,"f":1.9},{"s":590,"t":100,"v":1.42,"f":1.9},{"s":590,"t":140,"v":2.02,"f":1.9},{"s":590,"t":200,"v":1.67,"f":1.85},{"s":590,"t":280,"v":2.34,"f":1.8},{"s":590,"t":400,"v":1.39,"f":1.75},{"s":590,"t":460,"v":1.94,"f":1.7},
{"s":590,"t":0.22,"v":-2.82},{"s":590,"t":0.28,"v":-2.15},{"s":590,"t":0.36,"v":-2.74},{"s":590,"t":0.45,"v":-2.43},{"s":590,"t":0.56,"v":-3.2},{"s":590,"t":0.7,"v":-2.57},{"s":590,"t":0.9,"v":-2.37},{"s":590,"t":1.1,"v":-2.84},{"s":590,"t":1.4,"v":-2.47},{"s":590,"t":1.8,"v":-2.71},{"s":590,"t":2.2,"v":-1.67},{"s":590,"t":2.8,"v":-1.91},{"s":590,"t":3.6,"v":-1.18},{"s":590,"t":4.5,"v":-1.36},{"s":590,"t":5.6,"v":-0.66},{"s":590,"t":7,"v":-0.87},{"s":590,"t":9,"v":0.16},{"s":590,"t":11.5,"v":0.25},{"s":590,"t":15,"v":0.25},{"s":590,"t":19,"v":1.18},{"s":590,"t":25,"v":0.96},{"s":590,"t":31,"v":1.48},{"s":590,"t":40,"v":1.12},{"s":590,"t":50,"v":2.04},{"s":590,"t":60,"v":1.57},{"s":590,"t":70,"v":1.89},{"s":590,"t":80,"v":2.17},{"s":590,"t":84,"v":1.65},{"s":590,"t":92,"v":2.38},{"s":590,"t":96,"v":1.78},{"s":590,"t":120,"v":2.08},{"s":590,"t":170,"v":1.57},{"s":590,"t":240,"v":2.18},{"s":590,"t":340,"v":1.71},
{"s":670,"t":0.2,"v":-2.48,"f":-4.4},{"s":670,"t":0.25,"v":-2.64,"f":-4.4},{"s":670,"t":0.32,"v":-2.28,"f":-4.4},{"s":670,"t":0.4,"v":-3.08,"f":-4.4},{"s":670,"t":0.5,"v":-3.6,"f":-4.4},{"s":670,"t":0.63,"v":-4.4,"f":-4.4},{"s":670,"t":0.8,"v":-4.16,"f":-4.4},{"s":670,"t":1,"v":-4.58,"f":-4.3},{"s":670,"t":1.25,"v":-4.22,"f":-4.3},{"s":670,"t":1.6,"v":-4.42,"f":-4.3},{"s":670,"t":2,"v":-4.02,"f":-4.3},{"s":670,"t":2.5,"v":-4.46,"f":-4.3},{"s":670,"t":3.2,"v":-4.26,"f":-4.3},{"s":670,"t":4,"v":-4.04,"f":-4.2},{"s":670,"t":5,"v":-4.4,"f":-4.2},{"s":670,"t":6.3,"v":-3.96,"f":-4.2},{"s":670,"t":8,"v":-4.52,"f":-4.2},{"s":670,"t":10,"v":-4.08,"f":-4.2},{"s":670,"t":13,"v":-4.14,"f":-4.1},{"s":670,"t":17,"v":-3.9,"f":-4.1},{"s":670,"t":22,"v":-4.22,"f":-4.1},{"s":670,"t":28,"v":-3.94,"f":-4.1},{"s":670,"t":35,"v":-4.34,"f":-4.1},{"s":670,"t":45,"v":-4.02,"f":-4.1},{"s":670,"t":55,"v":-3.84,"f":-4},{"s":670,"t":65,"v":-4.24,"f":-4},{"s":670,"t":75,"v":-3.64,"f":-4},{"s":670,"t":88,"v":-4.12,"f":-4},{"s":670,"t":100,"v":-3.92,"f":-4},{"s":670,"t":140,"v":-4.32,"f":-4},{"s":670,"t":200,"v":-3.7,"f":-3.9},{"s":670,"t":280,"v":-3.86,"f":-3.9},{"s":670,"t":400,"v":-4.06,"f":-3.9},{"s":670,"t":460,"v":-3.62,"f":-3.9},
{"s":670,"t":0.22,"v":-2.8},{"s":670,"t":0.28,"v":-2.32},{"s":670,"t":0.36,"v":-2.68},{"s":670,"t":0.45,"v":-3.34},{"s":670,"t":0.56,"v":-3.82},{"s":670,"t":0.7,"v":-4.28},{"s":670,"t":0.9,"v":-4.16},{"s":670,"t":1.1,"v":-4.42},{"s":670,"t":1.4,"v":-4.26},{"s":670,"t":1.8,"v":-4.54},{"s":670,"t":2.2,"v":-3.98},{"s":670,"t":2.8,"v":-4.34},{"s":670,"t":3.6,"v":-4.1},{"s":670,"t":4.5,"v":-4.36},{"s":670,"t":5.6,"v":-4.12},{"s":670,"t":7,"v":-4.48},{"s":670,"t":9,"v":-4.04},{"s":670,"t":11.5,"v":-4.15},{"s":670,"t":15,"v":-4.3},{"s":670,"t":19,"v":-3.86},{"s":670,"t":25,"v":-4.18},{"s":670,"t":31,"v":-3.98},{"s":670,"t":40,"v":-4.34},{"s":670,"t":50,"v":-3.77},{"s":670,"t":60,"v":-4.12},{"s":670,"t":70,"v":-3.96},{"s":670,"t":80,"v":-3.8},{"s":670,"t":84,"v":-4.16},{"s":670,"t":92,"v":-3.68},{"s":670,"t":96,"v":-4.08},{"s":670,"t":120,"v":-3.88},{"s":670,"t":170,"v":-4.15},{"s":670,"t":240,"v":-3.66},{"s":670,"t":340,"v":-3.94},
{"s":480,"t":0.2,"v":-8.56,"f":-8.7},{"s":480,"t":0.25,"v":-8.91,"f":-8.7},{"s":480,"t":0.32,"v":-8.37,"f":-8.68},{"s":480,"t":0.4,"v":-8.77,"f":-8.66},{"s":480,"t":0.5,"v":-8.57,"f":-8.64},{"s":480,"t":0.63,"v":-8.9,"f":-8.62},{"s":480,"t":0.8,"v":-8.43,"f":-8.6},{"s":480,"t":1,"v":-8.55,"f":-8.58},{"s":480,"t":1.25,"v":-8.7,"f":-8.56},{"s":480,"t":1.6,"v":-8.3,"f":-8.54},{"s":480,"t":2,"v":-8.59,"f":-8.52},{"s":480,"t":2.5,"v":-8.71,"f":-8.5},{"s":480,"t":3.2,"v":-8.38,"f":-8.48},{"s":480,"t":4,"v":-8.18,"f":-8.46},{"s":480,"t":5,"v":-8.62,"f":-8.44},{"s":480,"t":6.3,"v":-8.42,"f":-8.42},{"s":480,"t":8,"v":-8.2,"f":-8.41},{"s":480,"t":10,"v":-8.65,"f":-8.4},{"s":480,"t":13,"v":-8.31,"f":-8.38},{"s":480,"t":17,"v":-8.47,"f":-8.36},{"s":480,"t":22,"v":-8.1,"f":-8.34},{"s":480,"t":28,"v":-8.46,"f":-8.32},{"s":480,"t":35,"v":-8.27,"f":-8.3},{"s":480,"t":45,"v":-8.14,"f":-8.28},{"s":480,"t":55,"v":-8.44,"f":-8.26},{"s":480,"t":65,"v":-8.03,"f":-8.24},{"s":480,"t":75,"v":-8.5,"f":-8.22},{"s":480,"t":88,"v":-8.1,"f":-8.21},{"s":480,"t":100,"v":-8.24,"f":-8.2},{"s":480,"t":140,"v":-7.93,"f":-8.1},{"s":480,"t":200,"v":-8.06,"f":-7.95},{"s":480,"t":280,"v":-7.66,"f":-7.8},{"s":480,"t":400,"v":-7.86,"f":-7.65},{"s":480,"t":460,"v":-7.53,"f":-7.6},
{"s":480,"t":0.22,"v":-8.88},{"s":480,"t":0.28,"v":-8.45},{"s":480,"t":0.36,"v":-8.74},{"s":480,"t":0.45,"v":-8.51},{"s":480,"t":0.56,"v":-8.91},{"s":480,"t":0.7,"v":-8.51},{"s":480,"t":0.9,"v":-8.38},{"s":480,"t":1.1,"v":-8.68},{"s":480,"t":1.4,"v":-8.52},{"s":480,"t":1.8,"v":-8.74},{"s":480,"t":2.2,"v":-8.23},{"s":480,"t":2.8,"v":-8.53},{"s":480,"t":3.6,"v":-8.3},{"s":480,"t":4.5,"v":-8.59},{"s":480,"t":5.6,"v":-8.36},{"s":480,"t":7,"v":-8.67},{"s":480,"t":9,"v":-8.26},{"s":480,"t":11.5,"v":-8.39},{"s":480,"t":15,"v":-8.55},{"s":480,"t":19,"v":-8.14},{"s":480,"t":25,"v":-8.4},{"s":480,"t":31,"v":-8.21},{"s":480,"t":40,"v":-8.5},{"s":480,"t":50,"v":-8.03},{"s":480,"t":60,"v":-8.36},{"s":480,"t":70,"v":-8.2},{"s":480,"t":80,"v":-8.05},{"s":480,"t":84,"v":-8.35},{"s":480,"t":92,"v":-7.92},{"s":480,"t":96,"v":-8.27},{"s":480,"t":120,"v":-8.05},{"s":480,"t":170,"v":-8.2},{"s":480,"t":240,"v":-7.66},{"s":480,"t":340,"v":-7.76}
],
"F":[
{"s":830,"t":0.2,"v":3.47,"f":3.42},{"s":830,"t":0.25,"v":3.33,"f":3.4},{"s":830,"t":0.32,"v":3.48,"f":3.37},{"s":830,"t":0.4,"v":3.3,"f":3.34},{"s":830,"t":0.5,"v":3.33,"f":3.31},{"s":830,"t":0.63,"v":3.18,"f":3.28},{"s":830,"t":0.8,"v":3.32,"f":3.26},{"s":830,"t":1,"v":3.24,"f":3.23},{"s":830,"t":1.25,"v":3.14,"f":3.19},{"s":830,"t":1.6,"v":3.23,"f":3.15},{"s":830,"t":2,"v":3.09,"f":3.11},{"s":830,"t":2.5,"v":3.02,"f":3.09},{"s":830,"t":3.2,"v":3.12,"f":3.08},{"s":830,"t":4,"v":3.17,"f":3.07},{"s":830,"t":5,"v":3.01,"f":3.07},{"s":830,"t":6.3,"v":3.07,"f":3.07},{"s":830,"t":8,"v":3.15,"f":3.08},{"s":830,"t":10,"v":3,"f":3.08},{"s":830,"t":13,"v":3.11,"f":3.09},{"s":830,"t":17,"v":3.05,"f":3.09},{"s":830,"t":22,"v":3.17,"f":3.09},{"s":830,"t":28,"v":3.04,"f":3.09},{"s":830,"t":35,"v":3.1,"f":3.09},{"s":830,"t":45,"v":3.14,"f":3.09},{"s":830,"t":55,"v":3.02,"f":3.08},{"s":830,"t":65,"v":3.15,"f":3.08},{"s":830,"t":75,"v":2.98,"f":3.08},{"s":830,"t":88,"v":3.12,"f":3.08},{"s":830,"t":100,"v":3.06,"f":3.07},{"s":830,"t":140,"v":3.11,"f":3.05},{"s":830,"t":200,"v":2.99,"f":3.03},{"s":830,"t":280,"v":3.06,"f":3.01},{"s":830,"t":400,"v":2.92,"f":2.99},{"s":830,"t":460,"v":3,"f":2.98},
{"s":830,"t":0.22,"v":3.35},{"s":830,"t":0.28,"v":3.46},{"s":830,"t":0.36,"v":3.33},{"s":830,"t":0.45,"v":3.37},{"s":830,"t":0.56,"v":3.19},{"s":830,"t":0.7,"v":3.31},{"s":830,"t":0.9,"v":3.31},{"s":830,"t":1.1,"v":3.17},{"s":830,"t":1.4,"v":3.18},{"s":830,"t":1.8,"v":3.06},{"s":830,"t":2.2,"v":3.2},{"s":830,"t":2.8,"v":3.07},{"s":830,"t":3.6,"v":3.13},{"s":830,"t":4.5,"v":3.02},{"s":830,"t":5.6,"v":3.09},{"s":830,"t":7,"v":2.99},{"s":830,"t":9,"v":3.13},{"s":830,"t":11.5,"v":3.08},{"s":830,"t":15,"v":3.03},{"s":830,"t":19,"v":3.16},{"s":830,"t":25,"v":3.07},{"s":830,"t":31,"v":3.13},{"s":830,"t":40,"v":3.02},{"s":830,"t":50,"v":3.16},{"s":830,"t":60,"v":3.04},{"s":830,"t":70,"v":3.09},{"s":830,"t":80,"v":3.14},{"s":830,"t":84,"v":3.03},{"s":830,"t":92,"v":3.17},{"s":830,"t":96,"v":3.05},{"s":830,"t":120,"v":3.1},{"s":830,"t":170,"v":2.98},{"s":830,"t":240,"v":3.09},{"s":830,"t":340,"v":2.99},
{"s":950,"t":0.2,"v":1.98,"f":2.1},{"s":950,"t":0.25,"v":2.2,"f":2.12},{"s":950,"t":0.32,"v":2.16,"f":2.14},{"s":950,"t":0.4,"v":2.1,"f":2.16},{"s":950,"t":0.5,"v":2.29,"f":2.18},{"s":950,"t":0.63,"v":2.17,"f":2.2},{"s":950,"t":0.8,"v":2.12,"f":2.21},{"s":950,"t":1,"v":2.28,"f":2.23},{"s":950,"t":1.25,"v":2.36,"f":2.24},{"s":950,"t":1.6,"v":2.18,"f":2.25},{"s":950,"t":2,"v":2.26,"f":2.26},{"s":950,"t":2.5,"v":2.36,"f":2.27},{"s":950,"t":3.2,"v":2.18,"f":2.28},{"s":950,"t":4,"v":2.32,"f":2.29},{"s":950,"t":5,"v":2.26,"f":2.3},{"s":950,"t":6.3,"v":2.41,"f":2.3},{"s":950,"t":8,"v":2.25,"f":2.31},{"s":950,"t":10,"v":2.33,"f":2.31},{"s":950,"t":13,"v":2.37,"f":2.31},{"s":950,"t":17,"v":2.24,"f":2.31},{"s":950,"t":22,"v":2.4,"f":2.31},{"s":950,"t":28,"v":2.19,"f":2.31},{"s":950,"t":35,"v":2.36,"f":2.31},{"s":950,"t":45,"v":2.3,"f":2.31},{"s":950,"t":55,"v":2.39,"f":2.31},{"s":950,"t":65,"v":2.27,"f":2.31},{"s":950,"t":75,"v":2.37,"f":2.31},{"s":950,"t":88,"v":2.22,"f":2.31},{"s":950,"t":100,"v":2.34,"f":2.31},{"s":950,"t":140,"v":2.36,"f":2.3},{"s":950,"t":200,"v":2.21,"f":2.3},{"s":950,"t":280,"v":2.43,"f":2.29},{"s":950,"t":400,"v":2.24,"f":2.28},{"s":950,"t":460,"v":2.31,"f":2.28},
{"s":950,"t":0.22,"v":2.04},{"s":950,"t":0.28,"v":2.24},{"s":950,"t":0.36,"v":2.12},{"s":950,"t":0.45,"v":2.23},{"s":950,"t":0.56,"v":2.07},{"s":950,"t":0.7,"v":2.25},{"s":950,"t":0.9,"v":2.31},{"s":950,"t":1.1,"v":2.19},{"s":950,"t":1.4,"v":2.26},{"s":950,"t":1.8,"v":2.16},{"s":950,"t":2.2,"v":2.38},{"s":950,"t":2.8,"v":2.26},{"s":950,"t":3.6,"v":2.36},{"s":950,"t":4.5,"v":2.23},{"s":950,"t":5.6,"v":2.33},{"s":950,"t":7,"v":2.21},{"s":950,"t":9,"v":2.37},{"s":950,"t":11.5,"v":2.31},{"s":950,"t":15,"v":2.24},{"s":950,"t":19,"v":2.4},{"s":950,"t":25,"v":2.28},{"s":950,"t":31,"v":2.36},{"s":950,"t":40,"v":2.22},{"s":950,"t":50,"v":2.42},{"s":950,"t":60,"v":2.27},{"s":950,"t":70,"v":2.33},{"s":950,"t":80,"v":2.39},{"s":950,"t":84,"v":2.25},{"s":950,"t":92,"v":2.43},{"s":950,"t":96,"v":2.28},{"s":950,"t":120,"v":2.36},{"s":950,"t":170,"v":2.23},{"s":950,"t":240,"v":2.38},{"s":950,"t":340,"v":2.27},
{"s":590,"t":0.2,"v":0.18,"f":0.15},{"s":590,"t":0.25,"v":0.11,"f":0.2},{"s":590,"t":0.32,"v":0.32,"f":0.26},{"s":590,"t":0.4,"v":0.27,"f":0.31},{"s":590,"t":0.5,"v":0.44,"f":0.36},{"s":590,"t":0.63,"v":0.4,"f":0.41},{"s":590,"t":0.8,"v":0.5,"f":0.45},{"s":590,"t":1,"v":0.37,"f":0.49},{"s":590,"t":1.25,"v":0.62,"f":0.53},{"s":590,"t":1.6,"v":0.51,"f":0.58},{"s":590,"t":2,"v":0.68,"f":0.62},{"s":590,"t":2.5,"v":0.67,"f":0.65},{"s":590,"t":3.2,"v":0.61,"f":0.67},{"s":590,"t":4,"v":0.79,"f":0.68},{"s":590,"t":5,"v":0.65,"f":0.69},{"s":590,"t":6.3,"v":0.73,"f":0.7},{"s":590,"t":8,"v":0.6,"f":0.7},{"s":590,"t":10,"v":0.79,"f":0.7},{"s":590,"t":13,"v":0.7,"f":0.7},{"s":590,"t":17,"v":0.63,"f":0.7},{"s":590,"t":22,"v":0.82,"f":0.7},{"s":590,"t":28,"v":0.75,"f":0.7},{"s":590,"t":35,"v":0.61,"f":0.7},{"s":590,"t":45,"v":0.67,"f":0.7},{"s":590,"t":55,"v":0.81,"f":0.7},{"s":590,"t":65,"v":0.64,"f":0.7},{"s":590,"t":75,"v":0.72,"f":0.7},{"s":590,"t":88,"v":0.78,"f":0.7},{"s":590,"t":100,"v":0.58,"f":0.7},{"s":590,"t":140,"v":0.72,"f":0.69},{"s":590,"t":200,"v":0.64,"f":0.68},{"s":590,"t":280,"v":0.81,"f":0.67},{"s":590,"t":400,"v":0.57,"f":0.66},{"s":590,"t":460,"v":0.72,"f":0.66},
{"s":590,"t":0.22,"v":0.1},{"s":590,"t":0.28,"v":0.34},{"s":590,"t":0.36,"v":0.26},{"s":590,"t":0.45,"v":0.4},{"s":590,"t":0.56,"v":0.27},{"s":590,"t":0.7,"v":0.48},{"s":590,"t":0.9,"v":0.56},{"s":590,"t":1.1,"v":0.47},{"s":590,"t":1.4,"v":0.58},{"s":590,"t":1.8,"v":0.51},{"s":590,"t":2.2,"v":0.76},{"s":590,"t":2.8,"v":0.65},{"s":590,"t":3.6,"v":0.76},{"s":590,"t":4.5,"v":0.63},{"s":590,"t":5.6,"v":0.73},{"s":590,"t":7,"v":0.6},{"s":590,"t":9,"v":0.76},{"s":590,"t":11.5,"v":0.7},{"s":590,"t":15,"v":0.63},{"s":590,"t":19,"v":0.79},{"s":590,"t":25,"v":0.67},{"s":590,"t":31,"v":0.75},{"s":590,"t":40,"v":0.61},{"s":590,"t":50,"v":0.81},{"s":590,"t":60,"v":0.66},{"s":590,"t":70,"v":0.72},{"s":590,"t":80,"v":0.78},{"s":590,"t":84,"v":0.64},{"s":590,"t":92,"v":0.82},{"s":590,"t":96,"v":0.67},{"s":590,"t":120,"v":0.73},{"s":590,"t":170,"v":0.6},{"s":590,"t":240,"v":0.76},{"s":590,"t":340,"v":0.65},
{"s":670,"t":0.2,"v":-0.13,"f":-0.1},{"s":670,"t":0.25,"v":-0.18,"f":-0.09},{"s":670,"t":0.32,"v":-0.04,"f":-0.08},{"s":670,"t":0.4,"v":0.05,"f":-0.07},{"s":670,"t":0.5,"v":-0.14,"f":-0.06},{"s":670,"t":0.63,"v":-0.05,"f":-0.05},{"s":670,"t":0.8,"v":0.05,"f":-0.04},{"s":670,"t":1,"v":-0.14,"f":-0.03},{"s":670,"t":1.25,"v":0.01,"f":-0.02},{"s":670,"t":1.6,"v":-0.07,"f":-0.02},{"s":670,"t":2,"v":0.09,"f":-0.01},{"s":670,"t":2.5,"v":-0.07,"f":-0.01},{"s":670,"t":3.2,"v":0.01,"f":-0.01},{"s":670,"t":4,"v":0.05,"f":-0.01},{"s":670,"t":5,"v":-0.09,"f":-0.01},{"s":670,"t":6.3,"v":0.08,"f":-0.01},{"s":670,"t":8,"v":-0.13,"f":-0.01},{"s":670,"t":10,"v":0.04,"f":-0.01},{"s":670,"t":13,"v":-0.03,"f":-0.01},{"s":670,"t":17,"v":0.07,"f":-0.01},{"s":670,"t":22,"v":-0.05,"f":-0.01},{"s":670,"t":28,"v":0.05,"f":-0.01},{"s":670,"t":35,"v":-0.1,"f":-0.01},{"s":670,"t":45,"v":0.02,"f":-0.01},{"s":670,"t":55,"v":0.05,"f":-0.01},{"s":670,"t":65,"v":-0.1,"f":-0.01},{"s":670,"t":75,"v":0.12,"f":-0.01},{"s":670,"t":88,"v":-0.05,"f":-0.01},{"s":670,"t":100,"v":0.02,"f":-0.01},{"s":670,"t":140,"v":-0.14,"f":-0.02},{"s":670,"t":200,"v":0.05,"f":-0.03},{"s":670,"t":280,"v":-0.03,"f":-0.04},{"s":670,"t":400,"v":-0.12,"f":-0.06},{"s":670,"t":460,"v":0.04,"f":-0.07},
{"s":670,"t":0.22,"v":-0.18},{"s":670,"t":0.28,"v":0.02},{"s":670,"t":0.36,"v":-0.11},{"s":670,"t":0.45,"v":-0.01},{"s":670,"t":0.56,"v":-0.18},{"s":670,"t":0.7,"v":-0.01},{"s":670,"t":0.9,"v":0.05},{"s":670,"t":1.1,"v":-0.08},{"s":670,"t":1.4,"v":0},{"s":670,"t":1.8,"v":-0.11},{"s":670,"t":2.2,"v":0.11},{"s":670,"t":2.8,"v":-0.03},{"s":670,"t":3.6,"v":0.07},{"s":670,"t":4.5,"v":-0.07},{"s":670,"t":5.6,"v":0.02},{"s":670,"t":7,"v":-0.12},{"s":670,"t":9,"v":0.05},{"s":670,"t":11.5,"v":-0.01},{"s":670,"t":15,"v":-0.09},{"s":670,"t":19,"v":0.08},{"s":670,"t":25,"v":-0.04},{"s":670,"t":31,"v":0.04},{"s":670,"t":40,"v":-0.1},{"s":670,"t":50,"v":0.1},{"s":670,"t":60,"v":-0.06},{"s":670,"t":70,"v":0.01},{"s":670,"t":80,"v":0.07},{"s":670,"t":84,"v":-0.07},{"s":670,"t":92,"v":0.11},{"s":670,"t":96,"v":-0.04},{"s":670,"t":120,"v":0.03},{"s":670,"t":170,"v":-0.11},{"s":670,"t":240,"v":0.05},{"s":670,"t":340,"v":-0.07},
{"s":480,"t":0.2,"v":-1.4,"f":-1.46},{"s":480,"t":0.25,"v":-1.52,"f":-1.43},{"s":480,"t":0.32,"v":-1.28,"f":-1.41},{"s":480,"t":0.4,"v":-1.43,"f":-1.38},{"s":480,"t":0.5,"v":-1.33,"f":-1.36},{"s":480,"t":0.63,"v":-1.46,"f":-1.34},{"s":480,"t":0.8,"v":-1.25,"f":-1.32},{"s":480,"t":1,"v":-1.3,"f":-1.31},{"s":480,"t":1.25,"v":-1.35,"f":-1.29},{"s":480,"t":1.6,"v":-1.17,"f":-1.27},{"s":480,"t":2,"v":-1.29,"f":-1.26},{"s":480,"t":2.5,"v":-1.34,"f":-1.25},{"s":480,"t":3.2,"v":-1.2,"f":-1.24},{"s":480,"t":4,"v":-1.11,"f":-1.23},{"s":480,"t":5,"v":-1.31,"f":-1.23},{"s":480,"t":6.3,"v":-1.22,"f":-1.22},{"s":480,"t":8,"v":-1.13,"f":-1.22},{"s":480,"t":10,"v":-1.32,"f":-1.21},{"s":480,"t":13,"v":-1.18,"f":-1.21},{"s":480,"t":17,"v":-1.25,"f":-1.2},{"s":480,"t":22,"v":-1.1,"f":-1.2},{"s":480,"t":28,"v":-1.25,"f":-1.19},{"s":480,"t":35,"v":-1.18,"f":-1.19},{"s":480,"t":45,"v":-1.12,"f":-1.18},{"s":480,"t":55,"v":-1.26,"f":-1.18},{"s":480,"t":65,"v":-1.09,"f":-1.18},{"s":480,"t":75,"v":-1.29,"f":-1.17},{"s":480,"t":88,"v":-1.12,"f":-1.17},{"s":480,"t":100,"v":-1.19,"f":-1.17},{"s":480,"t":140,"v":-1.08,"f":-1.15},{"s":480,"t":200,"v":-1.18,"f":-1.13},{"s":480,"t":280,"v":-1.06,"f":-1.12},{"s":480,"t":400,"v":-1.19,"f":-1.1},{"s":480,"t":460,"v":-1.06,"f":-1.09},
{"s":480,"t":0.22,"v":-1.53},{"s":480,"t":0.28,"v":-1.32},{"s":480,"t":0.36,"v":-1.43},{"s":480,"t":0.45,"v":-1.31},{"s":480,"t":0.56,"v":-1.47},{"s":480,"t":0.7,"v":-1.29},{"s":480,"t":0.9,"v":-1.22},{"s":480,"t":1.1,"v":-1.35},{"s":480,"t":1.4,"v":-1.27},{"s":480,"t":1.8,"v":-1.35},{"s":480,"t":2.2,"v":-1.13},{"s":480,"t":2.8,"v":-1.26},{"s":480,"t":3.6,"v":-1.16},{"s":480,"t":4.5,"v":-1.29},{"s":480,"t":5.6,"v":-1.19},{"s":480,"t":7,"v":-1.33},{"s":480,"t":9,"v":-1.15},{"s":480,"t":11.5,"v":-1.21},{"s":480,"t":15,"v":-1.28},{"s":480,"t":19,"v":-1.11},{"s":480,"t":25,"v":-1.22},{"s":480,"t":31,"v":-1.15},{"s":480,"t":40,"v":-1.27},{"s":480,"t":50,"v":-1.08},{"s":480,"t":60,"v":-1.22},{"s":480,"t":70,"v":-1.16},{"s":480,"t":80,"v":-1.1},{"s":480,"t":84,"v":-1.23},{"s":480,"t":92,"v":-1.05},{"s":480,"t":96,"v":-1.2},{"s":480,"t":120,"v":-1.12},{"s":480,"t":170,"v":-1.21},{"s":480,"t":240,"v":-1.03},{"s":480,"t":340,"v":-1.12}
]
},
"concat":[
{
"width":527,"height":184,
"layer":[
{"data":{"name":"A"},"mark":{"type":"line","strokeWidth":2,"interpolate":"monotone","invalid":"break-paths-show-domains"},
"encoding":{
"x":{"field":"w","type":"quantitative","scale":{"domain":[418,1000],"nice":false,"zero":false},"axis":{"orient":"top","values":[600,800],"labels":false,"tickSize":-6,"title":null}},
"y":{"field":"v","type":"quantitative","scale":{"domain":[-15.34,40],"nice":false,"zero":false},"axis":{"values":[0,20,40],"title":null,"tickSize":6,"labelPadding":3,"labelExpr":"''+datum.value"}},
"color":{"field":"s","type":"nominal","scale":{"domain":[0.2,0.5,1,5,20,100,500,1000],"range":["#e6212a","#f26c3d","#f9a12b","#7dc143","#109d4f","#3bb8e8","#3953a3","#5b3d9e"]},"legend":null}}},
{"data":{"values":[{}]},"mark":{"type":"rule","color":"#222","strokeWidth":1.5},
"encoding":{"y":{"datum":0,"type":"quantitative","scale":{"domain":[-15.34,40],"nice":false,"zero":false},"axis":{"orient":"right","values":[0,20,40],"labels":false,"tickSize":-6,"title":null}}}},
{"data":{"values":[{}]},"mark":{"type":"text","text":["A","DEC"],"lineHeight":22,"align":"left","baseline":"alphabetic","fontSize":17,"fontWeight":"bold","color":"#222"},
"encoding":{"x":{"datum":437,"type":"quantitative","scale":{"domain":[418,1000],"nice":false,"zero":false},"axis":null},"y":{"datum":30.1,"type":"quantitative","scale":{"domain":[-15.34,40],"nice":false,"zero":false},"axis":null}}},
{"data":{"name":"Ai"},"mark":{"type":"line","strokeWidth":2,"interpolate":"monotone"},
"encoding":{"x":{"field":"w","type":"quantitative","scale":{"domain":[780,1000],"range":[210,312],"nice":false,"zero":false},"axis":null},"y":{"field":"n","type":"quantitative","scale":{"domain":[0,1],"range":[64.7,10.3],"nice":false,"zero":false},"axis":null},"stroke":{"field":"s","type":"nominal","scale":{"domain":[0.2,1000],"range":["#e6212a","#5b3d9e"]},"legend":null}}},
{"data":{"values":[{}]},"mark":{"type":"rule","color":"#222","strokeWidth":1.5},
"encoding":{"x":{"datum":780,"type":"quantitative","scale":{"domain":[780,1000],"range":[210,312],"nice":false,"zero":false},"axis":null},"y":{"datum":0,"type":"quantitative","scale":{"domain":[0,1],"range":[64.7,10.3],"nice":false,"zero":false},"axis":null},"y2":{"datum":0.95}}},
{"data":{"values":[{}]},"mark":{"type":"rule","color":"#222","strokeWidth":1.5},
"encoding":{"x":{"datum":780,"type":"quantitative","scale":{"domain":[780,1000],"range":[210,312],"nice":false,"zero":false},"axis":null},"x2":{"datum":1000},"y":{"datum":0,"type":"quantitative","scale":{"domain":[0,1],"range":[64.7,10.3],"nice":false,"zero":false},"axis":null}}},
{"data":{"values":[{}]},"mark":{"type":"text","text":"norm.","angle":270,"fontSize":13,"align":"center","baseline":"middle","color":"#222"},
"encoding":{"x":{"datum":763,"type":"quantitative","scale":{"domain":[780,1000],"range":[210,312],"nice":false,"zero":false},"axis":null},"y":{"datum":0.71,"type":"quantitative","scale":{"domain":[0,1],"range":[64.7,10.3],"nice":false,"zero":false},"axis":null}}}
],
"resolve":{"scale":{"x":"independent","y":"independent"},"axis":{"x":"independent","y":"independent"}}
},
{
"width":505,"height":184,
"layer":[
{"data":{"name":"D"},"transform":[{"filter":"datum.s < 800"}],"mark":{"type":"point","filled":false,"size":40,"strokeWidth":1.1,"opacity":1},
"encoding":{
"x":{"field":"t","type":"quantitative","scale":{"type":"log","domain":[0.2,464],"nice":false},"axis":{"orient":"top","values":[1,10,100],"labels":false,"tickSize":-8,"title":null}},
"y":{"field":"v","type":"quantitative","scale":{"domain":[-20.02,52.6],"nice":false,"zero":false},"axis":{"values":[-20,0,20,40],"title":null,"tickSize":-5,"labelPadding":7,"labelExpr":"''+datum.value"}},
"color":{"field":"s","type":"nominal","scale":{"domain":[480,620],"range":["#6454a8","#3c5db0"]},"legend":{"orient":"none","legendX":294,"legendY":5,"title":null,"symbolType":"circle","symbolSize":55,"symbolStrokeWidth":1.2,"labelFontSize":16,"labelExpr":"datum.label+' nm'","labelOffset":12,"rowPadding":3}}}},
{"data":{"name":"D"},"transform":[{"filter":"datum.s > 800"}],"mark":{"type":"point","filled":false,"size":40,"strokeWidth":1.1,"opacity":1},
"encoding":{
"x":{"field":"t","type":"quantitative","axis":null},
"y":{"field":"v","type":"quantitative","axis":null},
"stroke":{"field":"s","type":"nominal","scale":{"domain":[840,970],"range":["#f6a623","#e3252c"]},"legend":{"orient":"none","legendX":406,"legendY":5,"title":null,"symbolType":"circle","symbolSize":55,"symbolStrokeWidth":1.2,"labelFontSize":16,"labelExpr":"datum.label+' nm'","labelOffset":12,"rowPadding":3}}}},
{"data":{"name":"D"},"mark":{"type":"line","color":"#111","strokeWidth":2,"interpolate":"monotone","invalid":"filter"},
"encoding":{
"x":{"field":"t","type":"quantitative","axis":{"orient":"top","values":[0.2,0.3,0.4,0.5,0.6,0.7,0.8,0.9,2,3,4,5,6,7,8,9,20,30,40,50,60,70,80,90,200,300,400],"labels":false,"tickSize":-4,"domain":false,"title":null}},
"y":{"field":"f","type":"quantitative","axis":null},
"detail":{"field":"s"}}},
{"data":{"values":[{}]},"mark":{"type":"rule","color":"#222","strokeWidth":1.5},"encoding":{"y":{"datum":0,"type":"quantitative","axis":null}}},
{"data":{"values":[{}]},"mark":{"type":"text","text":"D DEC","align":"left","baseline":"alphabetic","fontSize":18,"fontWeight":"bold","color":"#222"},
"encoding":{"x":{"datum":0.284,"type":"quantitative","axis":null},"y":{"datum":41.2,"type":"quantitative","axis":null}}}
],
"resolve":{"axis":{"x":"independent","y":"independent"}}
},
{
"width":527,"height":174,
"layer":[
{"data":{"name":"B"},"mark":{"type":"line","strokeWidth":2,"interpolate":"monotone","invalid":"break-paths-show-domains"},
"encoding":{
"x":{"field":"w","type":"quantitative","scale":{"domain":[418,1000],"nice":false,"zero":false},"axis":null},
"y":{"field":"v","type":"quantitative","scale":{"domain":[-10.89,30.05],"nice":false,"zero":false},"axis":{"values":[-10,0,10,20,30],"title":"ΔA (mOD)","titleY":64,"titlePadding":2,"tickSize":6,"labelPadding":3,"labelExpr":"''+datum.value"}},
"color":{"field":"s","type":"nominal","scale":{"domain":[0.2,0.5,1,5,20,100,500,1000],"range":["#e6212a","#f26c3d","#f9a12b","#7dc143","#109d4f","#3bb8e8","#3953a3","#5b3d9e"]},"legend":{"orient":"none","legendX":309,"legendY":130,"columns":2,"title":null,"symbolType":"stroke","symbolSize":480,"symbolStrokeWidth":2.5,"labelFontSize":15,"labelExpr":"datum.label+' ps'","labelOffset":8,"columnPadding":34,"rowPadding":-4}}}},
{"data":{"values":[{}]},"mark":{"type":"rule","color":"#222","strokeWidth":1.5},
"encoding":{"y":{"datum":0,"type":"quantitative","scale":{"domain":[-10.89,30.05],"nice":false,"zero":false},"axis":{"orient":"right","values":[-10,0,10,20,30],"labels":false,"tickSize":-6,"title":null}}}},
{"data":{"values":[{}]},"mark":{"type":"text","text":["B","DCB"],"lineHeight":22,"align":"left","baseline":"alphabetic","fontSize":17,"fontWeight":"bold","color":"#222"},
"encoding":{"x":{"datum":442,"type":"quantitative","scale":{"domain":[418,1000],"nice":false,"zero":false},"axis":null},"y":{"datum":23.1,"type":"quantitative","scale":{"domain":[-10.89,30.05],"nice":false,"zero":false},"axis":null}}},
{"data":{"name":"Bi"},"mark":{"type":"line","strokeWidth":2,"interpolate":"monotone"},
"encoding":{"x":{"field":"w","type":"quantitative","scale":{"domain":[780,1000],"range":[209,312],"nice":false,"zero":false},"axis":null},"y":{"field":"n","type":"quantitative","scale":{"domain":[0,1],"range":[48.3,-5],"nice":false,"zero":false},"axis":null},"stroke":{"field":"s","type":"nominal","scale":{"domain":[0.2,1000],"range":["#e6212a","#5b3d9e"]},"legend":null}}},
{"data":{"values":[{}]},"mark":{"type":"rule","color":"#222","strokeWidth":1.5},
"encoding":{"x":{"datum":780,"type":"quantitative","scale":{"domain":[780,1000],"range":[209,312],"nice":false,"zero":false},"axis":null},"y":{"datum":0,"type":"quantitative","scale":{"domain":[0,1],"range":[48.3,-5],"nice":false,"zero":false},"axis":null},"y2":{"datum":0.95}}},
{"data":{"values":[{}]},"mark":{"type":"rule","color":"#222","strokeWidth":1.5},
"encoding":{"x":{"datum":780,"type":"quantitative","scale":{"domain":[780,1000],"range":[209,312],"nice":false,"zero":false},"axis":null},"x2":{"datum":1000},"y":{"datum":0,"type":"quantitative","scale":{"domain":[0,1],"range":[48.3,-5],"nice":false,"zero":false},"axis":null}}},
{"data":{"values":[{}]},"mark":{"type":"text","text":"norm.","angle":270,"fontSize":13,"align":"center","baseline":"middle","color":"#222"},
"encoding":{"x":{"datum":767,"type":"quantitative","scale":{"domain":[780,1000],"range":[209,312],"nice":false,"zero":false},"axis":null},"y":{"datum":0.72,"type":"quantitative","scale":{"domain":[0,1],"range":[48.3,-5],"nice":false,"zero":false},"axis":null}}}
],
"resolve":{"scale":{"x":"independent","y":"independent"},"axis":{"x":"independent","y":"independent"}}
},
{
"width":505,"height":174,
"layer":[
{"data":{"name":"E"},"transform":[{"filter":"datum.s < 800"}],"mark":{"type":"point","filled":false,"size":40,"strokeWidth":1.1,"opacity":1},
"encoding":{
"x":{"field":"t","type":"quantitative","scale":{"type":"log","domain":[0.2,464],"nice":false},"axis":null},
"y":{"field":"v","type":"quantitative","scale":{"domain":[-14.54,38.5],"nice":false,"zero":false},"axis":{"values":[0,20],"title":"ΔA (mOD)","titleY":70,"titlePadding":28,"tickSize":-5,"labelPadding":7,"labelExpr":"''+datum.value"}},
"color":{"field":"s","type":"nominal","scale":{"domain":[480,590,670],"range":["#6454a8","#3c5db0","#4db848"]},"legend":{"orient":"none","legendX":294,"legendY":-15,"title":null,"symbolType":"circle","symbolSize":55,"symbolStrokeWidth":1.2,"labelFontSize":16,"labelExpr":"datum.label+' nm'","labelOffset":12,"rowPadding":3}}}},
{"data":{"name":"E"},"transform":[{"filter":"datum.s > 800"}],"mark":{"type":"point","filled":false,"size":40,"strokeWidth":1.1,"opacity":1},
"encoding":{
"x":{"field":"t","type":"quantitative","axis":null},
"y":{"field":"v","type":"quantitative","axis":null},
"stroke":{"field":"s","type":"nominal","scale":{"domain":[840,970],"range":["#f6a623","#e3252c"]},"legend":{"orient":"none","legendX":408,"legendY":-5,"title":null,"symbolType":"circle","symbolSize":55,"symbolStrokeWidth":1.2,"labelFontSize":16,"labelExpr":"datum.label+' nm'","labelOffset":12,"rowPadding":3}}}},
{"data":{"name":"E"},"mark":{"type":"line","color":"#111","strokeWidth":2,"interpolate":"monotone","invalid":"filter"},
"encoding":{"x":{"field":"t","type":"quantitative","axis":null},"y":{"field":"f","type":"quantitative","axis":null},"detail":{"field":"s"}}},
{"data":{"values":[{}]},"mark":{"type":"rule","color":"#222","strokeWidth":1.5},"encoding":{"y":{"datum":0,"type":"quantitative","axis":null}}},
{"data":{"values":[{}]},"mark":{"type":"text","text":"E DCB","align":"left","baseline":"alphabetic","fontSize":18,"fontWeight":"bold","color":"#222"},
"encoding":{"x":{"datum":0.284,"type":"quantitative","axis":null},"y":{"datum":33.9,"type":"quantitative","axis":null}}}
],
"resolve":{"axis":{"x":"independent","y":"independent"}}
},
{
"width":527,"height":182,
"layer":[
{"data":{"name":"C"},"mark":{"type":"line","strokeWidth":2,"interpolate":"monotone","invalid":"break-paths-show-domains"},
"encoding":{
"x":{"field":"w","type":"quantitative","scale":{"domain":[418,1000],"nice":false,"zero":false},"axis":{"orient":"bottom","values":[600,800,1000],"tickSize":-6,"labelPadding":17,"title":"Wavelength (nm)","titlePadding":3,"labelExpr":"''+datum.value"}},
"y":{"field":"v","type":"quantitative","scale":{"domain":[-2,5.14],"nice":false,"zero":false},"axis":{"values":[-2,0,2,4],"title":null,"tickSize":6,"labelPadding":3,"labelExpr":"''+datum.value"}},
"color":{"field":"s","type":"nominal","scale":{"domain":[0.2,0.5,1,5,20,100,500,1000],"range":["#e6212a","#f26c3d","#f9a12b","#7dc143","#109d4f","#3bb8e8","#3953a3","#5b3d9e"]},"legend":null}}},
{"data":{"values":[{}]},"mark":{"type":"rule","color":"#222","strokeWidth":1.5},
"encoding":{"y":{"datum":0,"type":"quantitative","scale":{"domain":[-2,5.14],"nice":false,"zero":false},"axis":{"orient":"right","values":[-2,0,2,4],"labels":false,"tickSize":-6,"title":null}}}},
{"data":{"values":[{}]},"mark":{"type":"text","text":["C","ACN"],"lineHeight":22,"align":"left","baseline":"alphabetic","fontSize":17,"fontWeight":"bold","color":"#222"},
"encoding":{"x":{"datum":442,"type":"quantitative","scale":{"domain":[418,1000],"nice":false,"zero":false},"axis":null},"y":{"datum":3.88,"type":"quantitative","scale":{"domain":[-2,5.14],"nice":false,"zero":false},"axis":null}}}
],
"resolve":{"scale":{"x":"independent","y":"independent"},"axis":{"x":"independent","y":"independent"}}
},
{
"width":505,"height":182,
"layer":[
{"data":{"name":"F"},"transform":[{"filter":"datum.s < 800"}],"mark":{"type":"point","filled":false,"size":40,"strokeWidth":1.1,"opacity":1},
"encoding":{
"x":{"field":"t","type":"quantitative","scale":{"type":"log","domain":[0.2,464],"nice":false},"axis":{"orient":"bottom","values":[1,10,100],"tickSize":-8,"labelPadding":15,"title":"Timedelay (ps)","titlePadding":3,"labelExpr":"''+datum.value"}},
"y":{"field":"v","type":"quantitative","scale":{"domain":[-3.15,6.14],"nice":false,"zero":false},"axis":{"values":[-2,0,2,4,6],"title":null,"tickSize":-5,"labelPadding":7,"labelExpr":"''+datum.value"}},
"color":{"field":"s","type":"nominal","scale":{"domain":[480,590,670],"range":["#6454a8","#3c5db0","#4db848"]},"legend":{"orient":"none","legendX":301,"legendY":-8,"title":null,"symbolType":"circle","symbolSize":55,"symbolStrokeWidth":1.2,"labelFontSize":16,"labelExpr":"datum.label+' nm'","labelOffset":12,"rowPadding":3}}}},
{"data":{"name":"F"},"transform":[{"filter":"datum.s > 800"}],"mark":{"type":"point","filled":false,"size":40,"strokeWidth":1.1,"opacity":1},
"encoding":{
"x":{"field":"t","type":"quantitative","axis":null},
"y":{"field":"v","type":"quantitative","axis":null},
"stroke":{"field":"s","type":"nominal","scale":{"domain":[830,950],"range":["#f6a623","#e3252c"]},"legend":{"orient":"none","legendX":413,"legendY":2,"title":null,"symbolType":"circle","symbolSize":55,"symbolStrokeWidth":1.2,"labelFontSize":16,"labelExpr":"datum.label+' nm'","labelOffset":12,"rowPadding":3}}}},
{"data":{"name":"F"},"mark":{"type":"line","color":"#111","strokeWidth":2,"interpolate":"monotone","invalid":"filter"},
"encoding":{
"x":{"field":"t","type":"quantitative","axis":{"orient":"bottom","values":[0.2,0.3,0.4,0.5,0.6,0.7,0.8,0.9,2,3,4,5,6,7,8,9,20,30,40,50,60,70,80,90,200,300,400],"labels":false,"tickSize":-4,"domain":false,"title":null}},
"y":{"field":"f","type":"quantitative","axis":null},
"detail":{"field":"s"}}},
{"data":{"values":[{}]},"mark":{"type":"text","text":"F ACN","align":"left","baseline":"alphabetic","fontSize":18,"fontWeight":"bold","color":"#222"},
"encoding":{"x":{"datum":0.284,"type":"quantitative","axis":null},"y":{"datum":4.91,"type":"quantitative","axis":null}}},
{"data":{"values":[{}]},"mark":{"type":"text","text":"x 1.3","align":"left","baseline":"alphabetic","fontSize":16,"color":"#5a4fa5"},
"encoding":{"x":{"datum":1.9,"type":"quantitative","axis":null},"y":{"datum":5.68,"type":"quantitative","axis":null}}},
{"data":{"values":[{}]},"mark":{"type":"text","text":"x 0.7","align":"left","baseline":"alphabetic","fontSize":16,"color":"#e3252c"},
"encoding":{"x":{"datum":0.2256,"type":"quantitative","axis":null},"y":{"datum":0.88,"type":"quantitative","axis":null}}}
],
"resolve":{"axis":{"x":"independent","y":"independent"}}
}
]
}
